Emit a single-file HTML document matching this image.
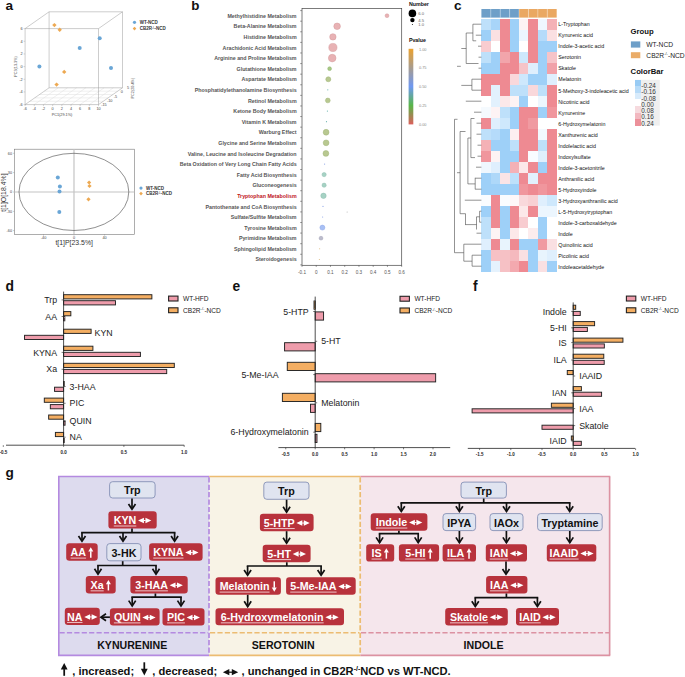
<!DOCTYPE html>
<html><head><meta charset="utf-8"><title>Figure</title>
<style>
html,body{margin:0;padding:0;background:#fff;}
svg{display:block;}
text{font-family:"Liberation Sans",sans-serif;}
</style></head>
<body>
<svg width="685" height="677" viewBox="0 0 685 677">
<rect x="0" y="0" width="685" height="677" fill="#fff"/>
<text x="5.40" y="10.30" font-size="13.6" font-weight="bold" fill="#111">a</text>
<text x="191.20" y="9.70" font-size="13.4" font-weight="bold" fill="#111">b</text>
<text x="454.00" y="10.40" font-size="13.6" font-weight="bold" fill="#111">c</text>
<text x="5.50" y="290.90" font-size="13.9" font-weight="bold" fill="#111">d</text>
<text x="232.60" y="291.10" font-size="13.8" font-weight="bold" fill="#111">e</text>
<text x="472.90" y="290.90" font-size="13.8" font-weight="bold" fill="#111">f</text>
<text x="5.60" y="477.40" font-size="13.6" font-weight="bold" fill="#111">g</text>
<line x1="34.28" y1="104.60" x2="58.28" y2="87.80" stroke="#dedede" stroke-width="0.5"/>
<line x1="43.45" y1="104.60" x2="67.45" y2="87.80" stroke="#dedede" stroke-width="0.5"/>
<line x1="52.62" y1="104.60" x2="76.62" y2="87.80" stroke="#dedede" stroke-width="0.5"/>
<line x1="61.80" y1="104.60" x2="85.80" y2="87.80" stroke="#dedede" stroke-width="0.5"/>
<line x1="70.97" y1="104.60" x2="94.97" y2="87.80" stroke="#dedede" stroke-width="0.5"/>
<line x1="80.15" y1="104.60" x2="104.15" y2="87.80" stroke="#dedede" stroke-width="0.5"/>
<line x1="89.33" y1="104.60" x2="113.33" y2="87.80" stroke="#dedede" stroke-width="0.5"/>
<line x1="29.90" y1="101.24" x2="103.30" y2="101.24" stroke="#dedede" stroke-width="0.5"/>
<line x1="34.70" y1="97.88" x2="108.10" y2="97.88" stroke="#dedede" stroke-width="0.5"/>
<line x1="39.50" y1="94.52" x2="112.90" y2="94.52" stroke="#dedede" stroke-width="0.5"/>
<line x1="44.30" y1="91.16" x2="117.70" y2="91.16" stroke="#dedede" stroke-width="0.5"/>
<line x1="25.10" y1="28.60" x2="98.50" y2="28.60" stroke="#9a9a9a" stroke-width="0.5"/>
<line x1="25.10" y1="104.60" x2="98.50" y2="104.60" stroke="#9a9a9a" stroke-width="0.5"/>
<line x1="25.10" y1="28.60" x2="25.10" y2="104.60" stroke="#9a9a9a" stroke-width="0.5"/>
<line x1="98.50" y1="28.60" x2="98.50" y2="104.60" stroke="#9a9a9a" stroke-width="0.5"/>
<line x1="49.10" y1="11.80" x2="122.50" y2="11.80" stroke="#9a9a9a" stroke-width="0.5"/>
<line x1="49.10" y1="87.80" x2="122.50" y2="87.80" stroke="#9a9a9a" stroke-width="0.5"/>
<line x1="49.10" y1="11.80" x2="49.10" y2="87.80" stroke="#9a9a9a" stroke-width="0.5"/>
<line x1="122.50" y1="11.80" x2="122.50" y2="87.80" stroke="#9a9a9a" stroke-width="0.5"/>
<line x1="25.10" y1="28.60" x2="49.10" y2="11.80" stroke="#9a9a9a" stroke-width="0.5"/>
<line x1="98.50" y1="28.60" x2="122.50" y2="11.80" stroke="#9a9a9a" stroke-width="0.5"/>
<line x1="25.10" y1="104.60" x2="49.10" y2="87.80" stroke="#9a9a9a" stroke-width="0.5"/>
<line x1="98.50" y1="104.60" x2="122.50" y2="87.80" stroke="#9a9a9a" stroke-width="0.5"/>
<line x1="23.60" y1="28.60" x2="25.10" y2="28.60" stroke="#9a9a9a" stroke-width="0.4"/>
<text x="22.60" y="29.90" font-size="3.8" text-anchor="end" fill="#444">6</text>
<line x1="23.60" y1="41.27" x2="25.10" y2="41.27" stroke="#9a9a9a" stroke-width="0.4"/>
<text x="22.60" y="42.57" font-size="3.8" text-anchor="end" fill="#444">4</text>
<line x1="23.60" y1="53.93" x2="25.10" y2="53.93" stroke="#9a9a9a" stroke-width="0.4"/>
<text x="22.60" y="55.23" font-size="3.8" text-anchor="end" fill="#444">2</text>
<line x1="23.60" y1="66.60" x2="25.10" y2="66.60" stroke="#9a9a9a" stroke-width="0.4"/>
<text x="22.60" y="67.90" font-size="3.8" text-anchor="end" fill="#444">0</text>
<line x1="23.60" y1="79.27" x2="25.10" y2="79.27" stroke="#9a9a9a" stroke-width="0.4"/>
<text x="22.60" y="80.57" font-size="3.8" text-anchor="end" fill="#444">-2</text>
<line x1="23.60" y1="91.93" x2="25.10" y2="91.93" stroke="#9a9a9a" stroke-width="0.4"/>
<text x="22.60" y="93.23" font-size="3.8" text-anchor="end" fill="#444">-4</text>
<line x1="23.60" y1="104.60" x2="25.10" y2="104.60" stroke="#9a9a9a" stroke-width="0.4"/>
<text x="22.60" y="105.90" font-size="3.8" text-anchor="end" fill="#444">-6</text>
<line x1="25.10" y1="104.60" x2="25.10" y2="106.10" stroke="#9a9a9a" stroke-width="0.4"/>
<text x="25.10" y="109.90" font-size="3.8" text-anchor="middle" fill="#444">-6</text>
<line x1="34.28" y1="104.60" x2="34.28" y2="106.10" stroke="#9a9a9a" stroke-width="0.4"/>
<text x="34.28" y="109.90" font-size="3.8" text-anchor="middle" fill="#444">-4</text>
<line x1="43.45" y1="104.60" x2="43.45" y2="106.10" stroke="#9a9a9a" stroke-width="0.4"/>
<text x="43.45" y="109.90" font-size="3.8" text-anchor="middle" fill="#444">-2</text>
<line x1="52.62" y1="104.60" x2="52.62" y2="106.10" stroke="#9a9a9a" stroke-width="0.4"/>
<text x="52.62" y="109.90" font-size="3.8" text-anchor="middle" fill="#444">0</text>
<line x1="61.80" y1="104.60" x2="61.80" y2="106.10" stroke="#9a9a9a" stroke-width="0.4"/>
<text x="61.80" y="109.90" font-size="3.8" text-anchor="middle" fill="#444">2</text>
<line x1="70.97" y1="104.60" x2="70.97" y2="106.10" stroke="#9a9a9a" stroke-width="0.4"/>
<text x="70.97" y="109.90" font-size="3.8" text-anchor="middle" fill="#444">4</text>
<line x1="80.15" y1="104.60" x2="80.15" y2="106.10" stroke="#9a9a9a" stroke-width="0.4"/>
<text x="80.15" y="109.90" font-size="3.8" text-anchor="middle" fill="#444">6</text>
<line x1="89.33" y1="104.60" x2="89.33" y2="106.10" stroke="#9a9a9a" stroke-width="0.4"/>
<text x="89.33" y="109.90" font-size="3.8" text-anchor="middle" fill="#444">8</text>
<line x1="98.50" y1="104.60" x2="98.50" y2="106.10" stroke="#9a9a9a" stroke-width="0.4"/>
<text x="98.50" y="109.90" font-size="3.8" text-anchor="middle" fill="#444">10</text>
<text x="103.90" y="105.90" font-size="3.8" text-anchor="middle" fill="#444">-15</text>
<text x="109.70" y="101.50" font-size="3.8" text-anchor="middle" fill="#444">-10</text>
<text x="115.50" y="97.50" font-size="3.8" text-anchor="middle" fill="#444">-5</text>
<text x="121.80" y="93.10" font-size="3.8" text-anchor="middle" fill="#444">0</text>
<text x="128.00" y="88.70" font-size="3.8" text-anchor="middle" fill="#444">5</text>
<text x="62.00" y="115.50" font-size="3.8" text-anchor="middle" fill="#444">PC1(29.1%)</text>
<text transform="translate(17.0,66.5) rotate(-90)" font-size="3.8" text-anchor="middle" fill="#444">PC3(13.3%)</text>
<text transform="translate(134.0,88.1) rotate(-90)" font-size="3.8" text-anchor="middle" fill="#444">PC2(20.4%)</text>
<circle cx="39.40" cy="66.40" r="2.00" fill="#6aa6d6"/>
<circle cx="79.70" cy="48.00" r="2.00" fill="#6aa6d6"/>
<circle cx="99.70" cy="38.20" r="2.00" fill="#6aa6d6"/>
<circle cx="111.00" cy="68.00" r="2.00" fill="#6aa6d6"/>
<path d="M54.40 22.90L56.60 25.10L54.40 27.30L52.20 25.10Z" fill="#eda952"/>
<path d="M59.70 27.60L61.90 29.80L59.70 32.00L57.50 29.80Z" fill="#eda952"/>
<path d="M64.20 69.70L66.40 71.90L64.20 74.10L62.00 71.90Z" fill="#eda952"/>
<path d="M56.60 82.40L58.80 84.60L56.60 86.80L54.40 84.60Z" fill="#eda952"/>
<circle cx="134.50" cy="22.30" r="1.60" fill="#6aa6d6"/>
<path d="M134.50 26.80L136.30 28.60L134.50 30.40L132.70 28.60Z" fill="#eda952"/>
<text x="139.80" y="23.90" font-size="4.5" font-weight="bold" fill="#333">WT-NCD</text>
<text x="139.80" y="30.20" font-size="4.5" font-weight="bold" fill="#333">CB2R<tspan font-size="2.6" dy="-1.4">-/-</tspan><tspan dy="1.4">-NCD</tspan></text>
<rect x="14.30" y="149.20" width="120.00" height="85.20" fill="none" stroke="#777" stroke-width="0.6"/>
<line x1="74.00" y1="149.20" x2="74.00" y2="234.40" stroke="#c4c4c4" stroke-width="1.2"/>
<line x1="14.30" y1="192.00" x2="134.30" y2="192.00" stroke="#c4c4c4" stroke-width="1.2"/>
<ellipse cx="73.9" cy="191.9" rx="54.9" ry="38.6" fill="none" stroke="#444" stroke-width="0.6"/>
<line x1="13.10" y1="153.30" x2="14.30" y2="153.30" stroke="#777" stroke-width="0.4"/>
<text x="12.10" y="154.60" font-size="3.8" text-anchor="end" fill="#444">60</text>
<line x1="13.10" y1="172.60" x2="14.30" y2="172.60" stroke="#777" stroke-width="0.4"/>
<text x="12.10" y="173.90" font-size="3.8" text-anchor="end" fill="#444">30</text>
<line x1="13.10" y1="192.00" x2="14.30" y2="192.00" stroke="#777" stroke-width="0.4"/>
<text x="12.10" y="193.30" font-size="3.8" text-anchor="end" fill="#444">0</text>
<line x1="13.10" y1="211.40" x2="14.30" y2="211.40" stroke="#777" stroke-width="0.4"/>
<text x="12.10" y="212.70" font-size="3.8" text-anchor="end" fill="#444">-30</text>
<line x1="13.10" y1="230.60" x2="14.30" y2="230.60" stroke="#777" stroke-width="0.4"/>
<text x="12.10" y="231.90" font-size="3.8" text-anchor="end" fill="#444">-60</text>
<line x1="43.50" y1="234.40" x2="43.50" y2="235.60" stroke="#777" stroke-width="0.4"/>
<text x="43.50" y="239.20" font-size="3.8" text-anchor="middle" fill="#444">-40</text>
<line x1="74.00" y1="234.40" x2="74.00" y2="235.60" stroke="#777" stroke-width="0.4"/>
<text x="74.00" y="239.20" font-size="3.8" text-anchor="middle" fill="#444">0</text>
<line x1="104.60" y1="234.40" x2="104.60" y2="235.60" stroke="#777" stroke-width="0.4"/>
<text x="104.60" y="239.20" font-size="3.8" text-anchor="middle" fill="#444">40</text>
<text x="74.20" y="244.70" font-size="6.9" text-anchor="middle" fill="#333">t[1]P[23.5%]</text>
<text transform="translate(6.4,192.6) rotate(-90)" font-size="6.9" text-anchor="middle" fill="#333">t[1]O[18.4%]</text>
<circle cx="57.80" cy="177.40" r="2.00" fill="#6aa6d6"/>
<circle cx="59.90" cy="186.60" r="2.00" fill="#6aa6d6"/>
<circle cx="59.50" cy="191.50" r="2.00" fill="#6aa6d6"/>
<circle cx="59.30" cy="212.10" r="2.00" fill="#6aa6d6"/>
<path d="M89.10 180.40L91.20 182.50L89.10 184.60L87.00 182.50Z" fill="#eda952"/>
<path d="M89.50 183.90L91.60 186.00L89.50 188.10L87.40 186.00Z" fill="#eda952"/>
<path d="M88.50 197.20L90.60 199.30L88.50 201.40L86.40 199.30Z" fill="#eda952"/>
<circle cx="141.00" cy="188.10" r="1.60" fill="#6aa6d6"/>
<path d="M141.00 191.80L142.80 193.60L141.00 195.40L139.20 193.60Z" fill="#eda952"/>
<text x="146.00" y="189.60" font-size="4.5" font-weight="bold" fill="#333">WT-NCD</text>
<text x="146.00" y="195.10" font-size="4.5" font-weight="bold" fill="#333">CB2R<tspan font-size="2.6" dy="-1.4">-/-</tspan><tspan dy="1.4">-NCD</tspan></text>
<rect x="302.00" y="8.40" width="99.70" height="256.90" fill="none" stroke="#444" stroke-width="0.7"/>
<text x="296.60" y="17.80" font-size="5.3" font-weight="bold" text-anchor="end" fill="#555">Methylhistidine Metabolism</text>
<text x="296.60" y="28.39" font-size="5.3" font-weight="bold" text-anchor="end" fill="#555">Beta-Alanine Metabolism</text>
<text x="296.60" y="38.99" font-size="5.3" font-weight="bold" text-anchor="end" fill="#555">Histidine Metabolism</text>
<text x="296.60" y="49.59" font-size="5.3" font-weight="bold" text-anchor="end" fill="#555">Arachidonic Acid Metabolism</text>
<text x="296.60" y="60.18" font-size="5.3" font-weight="bold" text-anchor="end" fill="#555">Arginine and Proline Metabolism</text>
<text x="296.60" y="70.78" font-size="5.3" font-weight="bold" text-anchor="end" fill="#555">Glutathione Metabolism</text>
<text x="296.60" y="81.37" font-size="5.3" font-weight="bold" text-anchor="end" fill="#555">Aspartate Metabolism</text>
<text x="296.60" y="91.97" font-size="5.3" font-weight="bold" text-anchor="end" fill="#555">Phosphatidylethanolamine Biosynthesis</text>
<text x="296.60" y="102.56" font-size="5.3" font-weight="bold" text-anchor="end" fill="#555">Retinol Metabolism</text>
<text x="296.60" y="113.16" font-size="5.3" font-weight="bold" text-anchor="end" fill="#555">Ketone Body Metabolism</text>
<text x="296.60" y="123.75" font-size="5.3" font-weight="bold" text-anchor="end" fill="#555">Vitamin K Metabolism</text>
<text x="296.60" y="134.34" font-size="5.3" font-weight="bold" text-anchor="end" fill="#555">Warburg Effect</text>
<text x="296.60" y="144.94" font-size="5.3" font-weight="bold" text-anchor="end" fill="#555">Glycine and Serine Metabolism</text>
<text x="296.60" y="155.54" font-size="5.3" font-weight="bold" text-anchor="end" fill="#555">Valine, Leucine and Isoleucine Degradation</text>
<text x="296.60" y="166.13" font-size="5.3" font-weight="bold" text-anchor="end" fill="#555">Beta Oxidation of Very Long Chain Fatty Acids</text>
<text x="296.60" y="176.73" font-size="5.3" font-weight="bold" text-anchor="end" fill="#555">Fatty Acid Biosynthesis</text>
<text x="296.60" y="187.32" font-size="5.3" font-weight="bold" text-anchor="end" fill="#555">Gluconeogenesis</text>
<text x="296.60" y="197.92" font-size="5.3" font-weight="bold" text-anchor="end" fill="#c0141c">Tryptophan Metabolism</text>
<text x="296.60" y="208.51" font-size="5.3" font-weight="bold" text-anchor="end" fill="#555">Pantothenate and CoA Biosynthesis</text>
<text x="296.60" y="219.11" font-size="5.3" font-weight="bold" text-anchor="end" fill="#555">Sulfate/Sulfite Metabolism</text>
<text x="296.60" y="229.70" font-size="5.3" font-weight="bold" text-anchor="end" fill="#555">Tyrosine Metabolism</text>
<text x="296.60" y="240.30" font-size="5.3" font-weight="bold" text-anchor="end" fill="#555">Pyrimidine Metabolism</text>
<text x="296.60" y="250.89" font-size="5.3" font-weight="bold" text-anchor="end" fill="#555">Sphingolipid Metabolism</text>
<text x="296.60" y="261.48" font-size="5.3" font-weight="bold" text-anchor="end" fill="#555">Steroidogenesis</text>
<line x1="300.20" y1="10.60" x2="302.00" y2="10.60" stroke="#555" stroke-width="0.6"/>
<line x1="300.20" y1="21.20" x2="302.00" y2="21.20" stroke="#555" stroke-width="0.6"/>
<line x1="300.20" y1="31.79" x2="302.00" y2="31.79" stroke="#555" stroke-width="0.6"/>
<line x1="300.20" y1="42.39" x2="302.00" y2="42.39" stroke="#555" stroke-width="0.6"/>
<line x1="300.20" y1="52.98" x2="302.00" y2="52.98" stroke="#555" stroke-width="0.6"/>
<line x1="300.20" y1="63.58" x2="302.00" y2="63.58" stroke="#555" stroke-width="0.6"/>
<line x1="300.20" y1="74.17" x2="302.00" y2="74.17" stroke="#555" stroke-width="0.6"/>
<line x1="300.20" y1="84.77" x2="302.00" y2="84.77" stroke="#555" stroke-width="0.6"/>
<line x1="300.20" y1="95.36" x2="302.00" y2="95.36" stroke="#555" stroke-width="0.6"/>
<line x1="300.20" y1="105.96" x2="302.00" y2="105.96" stroke="#555" stroke-width="0.6"/>
<line x1="300.20" y1="116.55" x2="302.00" y2="116.55" stroke="#555" stroke-width="0.6"/>
<line x1="300.20" y1="127.15" x2="302.00" y2="127.15" stroke="#555" stroke-width="0.6"/>
<line x1="300.20" y1="137.74" x2="302.00" y2="137.74" stroke="#555" stroke-width="0.6"/>
<line x1="300.20" y1="148.34" x2="302.00" y2="148.34" stroke="#555" stroke-width="0.6"/>
<line x1="300.20" y1="158.93" x2="302.00" y2="158.93" stroke="#555" stroke-width="0.6"/>
<line x1="300.20" y1="169.53" x2="302.00" y2="169.53" stroke="#555" stroke-width="0.6"/>
<line x1="300.20" y1="180.12" x2="302.00" y2="180.12" stroke="#555" stroke-width="0.6"/>
<line x1="300.20" y1="190.72" x2="302.00" y2="190.72" stroke="#555" stroke-width="0.6"/>
<line x1="300.20" y1="201.31" x2="302.00" y2="201.31" stroke="#555" stroke-width="0.6"/>
<line x1="300.20" y1="211.91" x2="302.00" y2="211.91" stroke="#555" stroke-width="0.6"/>
<line x1="300.20" y1="222.50" x2="302.00" y2="222.50" stroke="#555" stroke-width="0.6"/>
<line x1="300.20" y1="233.09" x2="302.00" y2="233.09" stroke="#555" stroke-width="0.6"/>
<line x1="300.20" y1="243.69" x2="302.00" y2="243.69" stroke="#555" stroke-width="0.6"/>
<line x1="300.20" y1="254.28" x2="302.00" y2="254.28" stroke="#555" stroke-width="0.6"/>
<line x1="300.20" y1="264.88" x2="302.00" y2="264.88" stroke="#555" stroke-width="0.6"/>
<line x1="302.00" y1="265.30" x2="302.00" y2="266.80" stroke="#444" stroke-width="0.6"/>
<text x="302.00" y="273.60" font-size="4.6" text-anchor="middle" fill="#555">-0.1</text>
<line x1="316.24" y1="265.30" x2="316.24" y2="266.80" stroke="#444" stroke-width="0.6"/>
<text x="316.24" y="273.60" font-size="4.6" text-anchor="middle" fill="#555">0</text>
<line x1="330.48" y1="265.30" x2="330.48" y2="266.80" stroke="#444" stroke-width="0.6"/>
<text x="330.48" y="273.60" font-size="4.6" text-anchor="middle" fill="#555">0.1</text>
<line x1="344.72" y1="265.30" x2="344.72" y2="266.80" stroke="#444" stroke-width="0.6"/>
<text x="344.72" y="273.60" font-size="4.6" text-anchor="middle" fill="#555">0.2</text>
<line x1="358.96" y1="265.30" x2="358.96" y2="266.80" stroke="#444" stroke-width="0.6"/>
<text x="358.96" y="273.60" font-size="4.6" text-anchor="middle" fill="#555">0.3</text>
<line x1="373.20" y1="265.30" x2="373.20" y2="266.80" stroke="#444" stroke-width="0.6"/>
<text x="373.20" y="273.60" font-size="4.6" text-anchor="middle" fill="#555">0.4</text>
<line x1="387.44" y1="265.30" x2="387.44" y2="266.80" stroke="#444" stroke-width="0.6"/>
<text x="387.44" y="273.60" font-size="4.6" text-anchor="middle" fill="#555">0.5</text>
<line x1="401.68" y1="265.30" x2="401.68" y2="266.80" stroke="#444" stroke-width="0.6"/>
<text x="401.68" y="273.60" font-size="4.6" text-anchor="middle" fill="#555">0.6</text>
<circle cx="387.00" cy="15.70" r="1.90" fill="#e8b2b4" stroke="#d49a9c" stroke-width="0.5"/>
<circle cx="337.10" cy="26.30" r="3.30" fill="#e8b2b4" stroke="#d49a9c" stroke-width="0.5"/>
<circle cx="332.90" cy="36.89" r="3.20" fill="#e8b2b4" stroke="#d49a9c" stroke-width="0.5"/>
<circle cx="332.90" cy="47.48" r="4.10" fill="#e8b2b4" stroke="#d49a9c" stroke-width="0.5"/>
<circle cx="332.20" cy="58.08" r="3.80" fill="#e8b2b4" stroke="#d49a9c" stroke-width="0.5"/>
<circle cx="329.60" cy="68.67" r="1.90" fill="#a8c886" stroke="#8fb46c" stroke-width="0.5"/>
<circle cx="328.30" cy="79.27" r="2.50" fill="#b8c890" stroke="#a0b478" stroke-width="0.5"/>
<circle cx="327.80" cy="89.87" r="0.60" fill="#6cb4b0"/>
<circle cx="327.80" cy="100.46" r="2.40" fill="#b8c890" stroke="#a0b478" stroke-width="0.5"/>
<circle cx="327.40" cy="111.06" r="0.60" fill="#6cb4b0"/>
<circle cx="326.50" cy="121.65" r="0.60" fill="#6cb4b0"/>
<circle cx="326.10" cy="132.25" r="2.90" fill="#b8c890" stroke="#a0b478" stroke-width="0.5"/>
<circle cx="326.10" cy="142.84" r="2.90" fill="#b8c890" stroke="#a0b478" stroke-width="0.5"/>
<circle cx="325.90" cy="153.44" r="2.90" fill="#b8c890" stroke="#a0b478" stroke-width="0.5"/>
<circle cx="324.60" cy="164.03" r="0.60" fill="#90a8e8"/>
<circle cx="324.10" cy="174.62" r="2.10" fill="#a6d2c4" stroke="#8cbcae" stroke-width="0.5"/>
<circle cx="324.10" cy="185.22" r="2.10" fill="#a6d2c4" stroke="#8cbcae" stroke-width="0.5"/>
<circle cx="323.50" cy="195.81" r="2.70" fill="#a6d2c4" stroke="#8cbcae" stroke-width="0.5"/>
<circle cx="323.00" cy="206.41" r="0.60" fill="#90a8e8"/>
<circle cx="322.60" cy="217.00" r="0.60" fill="#90a8e8"/>
<circle cx="322.40" cy="227.60" r="2.50" fill="#a8c0f4" stroke="#90a8e8" stroke-width="0.5"/>
<circle cx="321.00" cy="238.19" r="1.90" fill="#bcbccc" stroke="#a4a4b8" stroke-width="0.5"/>
<circle cx="319.70" cy="248.79" r="0.50" fill="#d8b070"/>
<circle cx="319.30" cy="259.38" r="0.50" fill="#d8b070"/>
<circle cx="347.10" cy="211.90" r="0.50" fill="#aaa"/>
<text x="408.90" y="5.80" font-size="5.3" font-weight="bold" fill="#111">Number</text>
<circle cx="412.40" cy="13.40" r="3.80" fill="#000"/>
<circle cx="412.40" cy="20.10" r="2.20" fill="#000"/>
<circle cx="412.40" cy="24.50" r="0.50" fill="#000"/>
<text x="418.20" y="15.00" font-size="4.2" fill="#666">6.0</text>
<text x="418.20" y="21.80" font-size="4.2" fill="#666">4.5</text>
<text x="418.20" y="26.20" font-size="4.2" fill="#666">1.0</text>
<text x="408.90" y="42.00" font-size="5.3" font-weight="bold" fill="#111">Pvalue</text>
<defs><linearGradient id="pv" x1="0" y1="0" x2="0" y2="1"><stop offset="0" stop-color="#eba12d"/><stop offset="0.25" stop-color="#a89c8e"/><stop offset="0.5" stop-color="#6f98f2"/><stop offset="0.75" stop-color="#58b648"/><stop offset="1" stop-color="#dc5f5c"/></linearGradient></defs>
<rect x="408.60" y="48.80" width="4.70" height="75.60" fill="url(#pv)"/>
<text x="418.90" y="50.70" font-size="3.9" fill="#888">1.00</text>
<text x="418.90" y="69.45" font-size="3.9" fill="#888">0.75</text>
<text x="418.90" y="88.20" font-size="3.9" fill="#888">0.50</text>
<text x="418.90" y="106.95" font-size="3.9" fill="#888">0.25</text>
<text x="418.90" y="125.70" font-size="3.9" fill="#888">0.00</text>
<rect x="481.40" y="9.00" width="9.41" height="8.60" fill="#6e9fc8"/>
<rect x="490.81" y="9.00" width="9.41" height="8.60" fill="#6e9fc8"/>
<rect x="500.22" y="9.00" width="9.41" height="8.60" fill="#6e9fc8"/>
<rect x="509.63" y="9.00" width="9.41" height="8.60" fill="#6e9fc8"/>
<rect x="519.04" y="9.00" width="9.41" height="8.60" fill="#eaa862"/>
<rect x="528.45" y="9.00" width="9.41" height="8.60" fill="#eaa862"/>
<rect x="537.86" y="9.00" width="9.41" height="8.60" fill="#eaa862"/>
<rect x="547.27" y="9.00" width="9.41" height="8.60" fill="#eaa862"/>
<line x1="490.81" y1="9.00" x2="490.81" y2="17.60" stroke="#ffffff" stroke-width="0.5" stroke-opacity="0.6"/>
<line x1="500.22" y1="9.00" x2="500.22" y2="17.60" stroke="#ffffff" stroke-width="0.5" stroke-opacity="0.6"/>
<line x1="509.63" y1="9.00" x2="509.63" y2="17.60" stroke="#ffffff" stroke-width="0.5" stroke-opacity="0.6"/>
<line x1="519.04" y1="9.00" x2="519.04" y2="17.60" stroke="#ffffff" stroke-width="0.5" stroke-opacity="0.6"/>
<line x1="528.45" y1="9.00" x2="528.45" y2="17.60" stroke="#ffffff" stroke-width="0.5" stroke-opacity="0.6"/>
<line x1="537.86" y1="9.00" x2="537.86" y2="17.60" stroke="#ffffff" stroke-width="0.5" stroke-opacity="0.6"/>
<line x1="547.27" y1="9.00" x2="547.27" y2="17.60" stroke="#ffffff" stroke-width="0.5" stroke-opacity="0.6"/>
<rect x="481.40" y="18.70" width="9.46" height="11.05" fill="#bee0fa" shape-rendering="crispEdges"/>
<rect x="490.81" y="18.70" width="9.46" height="11.05" fill="#a8d5f9" shape-rendering="crispEdges"/>
<rect x="500.22" y="18.70" width="9.46" height="11.05" fill="#ee8a92" shape-rendering="crispEdges"/>
<rect x="509.63" y="18.70" width="9.46" height="11.05" fill="#9ed0f8" shape-rendering="crispEdges"/>
<rect x="519.04" y="18.70" width="9.46" height="11.05" fill="#fdf3f4" shape-rendering="crispEdges"/>
<rect x="528.45" y="18.70" width="9.46" height="11.05" fill="#ee8a92" shape-rendering="crispEdges"/>
<rect x="537.86" y="18.70" width="9.46" height="11.05" fill="#eff7fe" shape-rendering="crispEdges"/>
<rect x="547.27" y="18.70" width="9.46" height="11.05" fill="#f4b1b6" shape-rendering="crispEdges"/>
<rect x="481.40" y="29.70" width="9.46" height="11.05" fill="#9ed0f8" shape-rendering="crispEdges"/>
<rect x="490.81" y="29.70" width="9.46" height="11.05" fill="#fae0e2" shape-rendering="crispEdges"/>
<rect x="500.22" y="29.70" width="9.46" height="11.05" fill="#ee8a92" shape-rendering="crispEdges"/>
<rect x="509.63" y="29.70" width="9.46" height="11.05" fill="#9ed0f8" shape-rendering="crispEdges"/>
<rect x="519.04" y="29.70" width="9.46" height="11.05" fill="#ecf6fe" shape-rendering="crispEdges"/>
<rect x="528.45" y="29.70" width="9.46" height="11.05" fill="#ee8a92" shape-rendering="crispEdges"/>
<rect x="537.86" y="29.70" width="9.46" height="11.05" fill="#b5dbfa" shape-rendering="crispEdges"/>
<rect x="547.27" y="29.70" width="9.46" height="11.05" fill="#fae0e2" shape-rendering="crispEdges"/>
<rect x="481.40" y="40.70" width="9.46" height="11.05" fill="#f8ccd0" shape-rendering="crispEdges"/>
<rect x="490.81" y="40.70" width="9.46" height="11.05" fill="#ffffff" shape-rendering="crispEdges"/>
<rect x="500.22" y="40.70" width="9.46" height="11.05" fill="#ee8a92" shape-rendering="crispEdges"/>
<rect x="509.63" y="40.70" width="9.46" height="11.05" fill="#9ed0f8" shape-rendering="crispEdges"/>
<rect x="519.04" y="40.70" width="9.46" height="11.05" fill="#ffffff" shape-rendering="crispEdges"/>
<rect x="528.45" y="40.70" width="9.46" height="11.05" fill="#ee8a92" shape-rendering="crispEdges"/>
<rect x="537.86" y="40.70" width="9.46" height="11.05" fill="#9ed0f8" shape-rendering="crispEdges"/>
<rect x="547.27" y="40.70" width="9.46" height="11.05" fill="#9ed0f8" shape-rendering="crispEdges"/>
<rect x="481.40" y="51.70" width="9.46" height="11.05" fill="#bee0fa" shape-rendering="crispEdges"/>
<rect x="490.81" y="51.70" width="9.46" height="11.05" fill="#9ed0f8" shape-rendering="crispEdges"/>
<rect x="500.22" y="51.70" width="9.46" height="11.05" fill="#f2a5ab" shape-rendering="crispEdges"/>
<rect x="509.63" y="51.70" width="9.46" height="11.05" fill="#ee8a92" shape-rendering="crispEdges"/>
<rect x="519.04" y="51.70" width="9.46" height="11.05" fill="#cee8fc" shape-rendering="crispEdges"/>
<rect x="528.45" y="51.70" width="9.46" height="11.05" fill="#ee8a92" shape-rendering="crispEdges"/>
<rect x="537.86" y="51.70" width="9.46" height="11.05" fill="#9ed0f8" shape-rendering="crispEdges"/>
<rect x="547.27" y="51.70" width="9.46" height="11.05" fill="#f6c4c8" shape-rendering="crispEdges"/>
<rect x="481.40" y="62.70" width="9.46" height="11.05" fill="#9ed0f8" shape-rendering="crispEdges"/>
<rect x="490.81" y="62.70" width="9.46" height="11.05" fill="#9ed0f8" shape-rendering="crispEdges"/>
<rect x="500.22" y="62.70" width="9.46" height="11.05" fill="#ee8a92" shape-rendering="crispEdges"/>
<rect x="509.63" y="62.70" width="9.46" height="11.05" fill="#ee8a92" shape-rendering="crispEdges"/>
<rect x="519.04" y="62.70" width="9.46" height="11.05" fill="#f6c4c8" shape-rendering="crispEdges"/>
<rect x="528.45" y="62.70" width="9.46" height="11.05" fill="#dfeffd" shape-rendering="crispEdges"/>
<rect x="537.86" y="62.70" width="9.46" height="11.05" fill="#9ed0f8" shape-rendering="crispEdges"/>
<rect x="547.27" y="62.70" width="9.46" height="11.05" fill="#f1a1a8" shape-rendering="crispEdges"/>
<rect x="481.40" y="73.70" width="9.46" height="11.05" fill="#ee8a92" shape-rendering="crispEdges"/>
<rect x="490.81" y="73.70" width="9.46" height="11.05" fill="#ee8a92" shape-rendering="crispEdges"/>
<rect x="500.22" y="73.70" width="9.46" height="11.05" fill="#ee8a92" shape-rendering="crispEdges"/>
<rect x="509.63" y="73.70" width="9.46" height="11.05" fill="#f9d8db" shape-rendering="crispEdges"/>
<rect x="519.04" y="73.70" width="9.46" height="11.05" fill="#cee8fc" shape-rendering="crispEdges"/>
<rect x="528.45" y="73.70" width="9.46" height="11.05" fill="#9ed0f8" shape-rendering="crispEdges"/>
<rect x="537.86" y="73.70" width="9.46" height="11.05" fill="#9ed0f8" shape-rendering="crispEdges"/>
<rect x="547.27" y="73.70" width="9.46" height="11.05" fill="#dfeffd" shape-rendering="crispEdges"/>
<rect x="481.40" y="84.70" width="9.46" height="11.05" fill="#ee8a92" shape-rendering="crispEdges"/>
<rect x="490.81" y="84.70" width="9.46" height="11.05" fill="#e2f1fd" shape-rendering="crispEdges"/>
<rect x="500.22" y="84.70" width="9.46" height="11.05" fill="#ee8a92" shape-rendering="crispEdges"/>
<rect x="509.63" y="84.70" width="9.46" height="11.05" fill="#bee0fa" shape-rendering="crispEdges"/>
<rect x="519.04" y="84.70" width="9.46" height="11.05" fill="#bee0fa" shape-rendering="crispEdges"/>
<rect x="528.45" y="84.70" width="9.46" height="11.05" fill="#f9d8db" shape-rendering="crispEdges"/>
<rect x="537.86" y="84.70" width="9.46" height="11.05" fill="#bee0fa" shape-rendering="crispEdges"/>
<rect x="547.27" y="84.70" width="9.46" height="11.05" fill="#ee8a92" shape-rendering="crispEdges"/>
<rect x="481.40" y="95.70" width="9.46" height="11.05" fill="#ffffff" shape-rendering="crispEdges"/>
<rect x="490.81" y="95.70" width="9.46" height="11.05" fill="#e2f1fd" shape-rendering="crispEdges"/>
<rect x="500.22" y="95.70" width="9.46" height="11.05" fill="#fce8e9" shape-rendering="crispEdges"/>
<rect x="509.63" y="95.70" width="9.46" height="11.05" fill="#fdf3f4" shape-rendering="crispEdges"/>
<rect x="519.04" y="95.70" width="9.46" height="11.05" fill="#9ed0f8" shape-rendering="crispEdges"/>
<rect x="528.45" y="95.70" width="9.46" height="11.05" fill="#ffffff" shape-rendering="crispEdges"/>
<rect x="537.86" y="95.70" width="9.46" height="11.05" fill="#ecf6fe" shape-rendering="crispEdges"/>
<rect x="547.27" y="95.70" width="9.46" height="11.05" fill="#ee8a92" shape-rendering="crispEdges"/>
<rect x="481.40" y="106.70" width="9.46" height="11.05" fill="#f5fafe" shape-rendering="crispEdges"/>
<rect x="490.81" y="106.70" width="9.46" height="11.05" fill="#fdf3f4" shape-rendering="crispEdges"/>
<rect x="500.22" y="106.70" width="9.46" height="11.05" fill="#bee0fa" shape-rendering="crispEdges"/>
<rect x="509.63" y="106.70" width="9.46" height="11.05" fill="#9ed0f8" shape-rendering="crispEdges"/>
<rect x="519.04" y="106.70" width="9.46" height="11.05" fill="#ee8a92" shape-rendering="crispEdges"/>
<rect x="528.45" y="106.70" width="9.46" height="11.05" fill="#ee8a92" shape-rendering="crispEdges"/>
<rect x="537.86" y="106.70" width="9.46" height="11.05" fill="#9ed0f8" shape-rendering="crispEdges"/>
<rect x="547.27" y="106.70" width="9.46" height="11.05" fill="#f0969d" shape-rendering="crispEdges"/>
<rect x="481.40" y="117.70" width="9.46" height="11.05" fill="#ee8a92" shape-rendering="crispEdges"/>
<rect x="490.81" y="117.70" width="9.46" height="11.05" fill="#dfeffd" shape-rendering="crispEdges"/>
<rect x="500.22" y="117.70" width="9.46" height="11.05" fill="#cee8fc" shape-rendering="crispEdges"/>
<rect x="509.63" y="117.70" width="9.46" height="11.05" fill="#9ed0f8" shape-rendering="crispEdges"/>
<rect x="519.04" y="117.70" width="9.46" height="11.05" fill="#ee8a92" shape-rendering="crispEdges"/>
<rect x="528.45" y="117.70" width="9.46" height="11.05" fill="#f09aa1" shape-rendering="crispEdges"/>
<rect x="537.86" y="117.70" width="9.46" height="11.05" fill="#ffffff" shape-rendering="crispEdges"/>
<rect x="547.27" y="117.70" width="9.46" height="11.05" fill="#ffffff" shape-rendering="crispEdges"/>
<rect x="481.40" y="128.70" width="9.46" height="11.05" fill="#bee0fa" shape-rendering="crispEdges"/>
<rect x="490.81" y="128.70" width="9.46" height="11.05" fill="#b5dbfa" shape-rendering="crispEdges"/>
<rect x="500.22" y="128.70" width="9.46" height="11.05" fill="#9ed0f8" shape-rendering="crispEdges"/>
<rect x="509.63" y="128.70" width="9.46" height="11.05" fill="#fdeff0" shape-rendering="crispEdges"/>
<rect x="519.04" y="128.70" width="9.46" height="11.05" fill="#ee8a92" shape-rendering="crispEdges"/>
<rect x="528.45" y="128.70" width="9.46" height="11.05" fill="#ee8a92" shape-rendering="crispEdges"/>
<rect x="537.86" y="128.70" width="9.46" height="11.05" fill="#f2f9fe" shape-rendering="crispEdges"/>
<rect x="547.27" y="128.70" width="9.46" height="11.05" fill="#ee8a92" shape-rendering="crispEdges"/>
<rect x="481.40" y="139.70" width="9.46" height="11.05" fill="#f4b1b6" shape-rendering="crispEdges"/>
<rect x="490.81" y="139.70" width="9.46" height="11.05" fill="#9ed0f8" shape-rendering="crispEdges"/>
<rect x="500.22" y="139.70" width="9.46" height="11.05" fill="#9ed0f8" shape-rendering="crispEdges"/>
<rect x="509.63" y="139.70" width="9.46" height="11.05" fill="#bee0fa" shape-rendering="crispEdges"/>
<rect x="519.04" y="139.70" width="9.46" height="11.05" fill="#ee8a92" shape-rendering="crispEdges"/>
<rect x="528.45" y="139.70" width="9.46" height="11.05" fill="#ee8a92" shape-rendering="crispEdges"/>
<rect x="537.86" y="139.70" width="9.46" height="11.05" fill="#bee0fa" shape-rendering="crispEdges"/>
<rect x="547.27" y="139.70" width="9.46" height="11.05" fill="#ee8a92" shape-rendering="crispEdges"/>
<rect x="481.40" y="150.70" width="9.46" height="11.05" fill="#f0969d" shape-rendering="crispEdges"/>
<rect x="490.81" y="150.70" width="9.46" height="11.05" fill="#fdf3f4" shape-rendering="crispEdges"/>
<rect x="500.22" y="150.70" width="9.46" height="11.05" fill="#9ed0f8" shape-rendering="crispEdges"/>
<rect x="509.63" y="150.70" width="9.46" height="11.05" fill="#9ed0f8" shape-rendering="crispEdges"/>
<rect x="519.04" y="150.70" width="9.46" height="11.05" fill="#ee8a92" shape-rendering="crispEdges"/>
<rect x="528.45" y="150.70" width="9.46" height="11.05" fill="#f9fcff" shape-rendering="crispEdges"/>
<rect x="537.86" y="150.70" width="9.46" height="11.05" fill="#dfeffd" shape-rendering="crispEdges"/>
<rect x="547.27" y="150.70" width="9.46" height="11.05" fill="#ee8a92" shape-rendering="crispEdges"/>
<rect x="481.40" y="161.70" width="9.46" height="11.05" fill="#eff7fe" shape-rendering="crispEdges"/>
<rect x="490.81" y="161.70" width="9.46" height="11.05" fill="#dfeffd" shape-rendering="crispEdges"/>
<rect x="500.22" y="161.70" width="9.46" height="11.05" fill="#9ed0f8" shape-rendering="crispEdges"/>
<rect x="509.63" y="161.70" width="9.46" height="11.05" fill="#f4b1b6" shape-rendering="crispEdges"/>
<rect x="519.04" y="161.70" width="9.46" height="11.05" fill="#fce8e9" shape-rendering="crispEdges"/>
<rect x="528.45" y="161.70" width="9.46" height="11.05" fill="#ee8a92" shape-rendering="crispEdges"/>
<rect x="537.86" y="161.70" width="9.46" height="11.05" fill="#9ed0f8" shape-rendering="crispEdges"/>
<rect x="547.27" y="161.70" width="9.46" height="11.05" fill="#ee8a92" shape-rendering="crispEdges"/>
<rect x="481.40" y="172.70" width="9.46" height="11.05" fill="#9ed0f8" shape-rendering="crispEdges"/>
<rect x="490.81" y="172.70" width="9.46" height="11.05" fill="#aed8f9" shape-rendering="crispEdges"/>
<rect x="500.22" y="172.70" width="9.46" height="11.05" fill="#fbe4e6" shape-rendering="crispEdges"/>
<rect x="509.63" y="172.70" width="9.46" height="11.05" fill="#bee0fa" shape-rendering="crispEdges"/>
<rect x="519.04" y="172.70" width="9.46" height="11.05" fill="#ee8a92" shape-rendering="crispEdges"/>
<rect x="528.45" y="172.70" width="9.46" height="11.05" fill="#e2f1fd" shape-rendering="crispEdges"/>
<rect x="537.86" y="172.70" width="9.46" height="11.05" fill="#ee8a92" shape-rendering="crispEdges"/>
<rect x="547.27" y="172.70" width="9.46" height="11.05" fill="#ee8a92" shape-rendering="crispEdges"/>
<rect x="481.40" y="183.70" width="9.46" height="11.05" fill="#9ed0f8" shape-rendering="crispEdges"/>
<rect x="490.81" y="183.70" width="9.46" height="11.05" fill="#9ed0f8" shape-rendering="crispEdges"/>
<rect x="500.22" y="183.70" width="9.46" height="11.05" fill="#9ed0f8" shape-rendering="crispEdges"/>
<rect x="509.63" y="183.70" width="9.46" height="11.05" fill="#9ed0f8" shape-rendering="crispEdges"/>
<rect x="519.04" y="183.70" width="9.46" height="11.05" fill="#f0969d" shape-rendering="crispEdges"/>
<rect x="528.45" y="183.70" width="9.46" height="11.05" fill="#ee8a92" shape-rendering="crispEdges"/>
<rect x="537.86" y="183.70" width="9.46" height="11.05" fill="#f0969d" shape-rendering="crispEdges"/>
<rect x="547.27" y="183.70" width="9.46" height="11.05" fill="#ee8a92" shape-rendering="crispEdges"/>
<rect x="481.40" y="194.70" width="9.46" height="11.05" fill="#f9fcff" shape-rendering="crispEdges"/>
<rect x="490.81" y="194.70" width="9.46" height="11.05" fill="#ee8a92" shape-rendering="crispEdges"/>
<rect x="500.22" y="194.70" width="9.46" height="11.05" fill="#f9fcff" shape-rendering="crispEdges"/>
<rect x="509.63" y="194.70" width="9.46" height="11.05" fill="#fef7f8" shape-rendering="crispEdges"/>
<rect x="519.04" y="194.70" width="9.46" height="11.05" fill="#f9d8db" shape-rendering="crispEdges"/>
<rect x="528.45" y="194.70" width="9.46" height="11.05" fill="#f8d0d3" shape-rendering="crispEdges"/>
<rect x="537.86" y="194.70" width="9.46" height="11.05" fill="#dfeffd" shape-rendering="crispEdges"/>
<rect x="547.27" y="194.70" width="9.46" height="11.05" fill="#cee8fc" shape-rendering="crispEdges"/>
<rect x="481.40" y="205.70" width="9.46" height="11.05" fill="#9ed0f8" shape-rendering="crispEdges"/>
<rect x="490.81" y="205.70" width="9.46" height="11.05" fill="#ee8a92" shape-rendering="crispEdges"/>
<rect x="500.22" y="205.70" width="9.46" height="11.05" fill="#9ed0f8" shape-rendering="crispEdges"/>
<rect x="509.63" y="205.70" width="9.46" height="11.05" fill="#ee8a92" shape-rendering="crispEdges"/>
<rect x="519.04" y="205.70" width="9.46" height="11.05" fill="#fce8e9" shape-rendering="crispEdges"/>
<rect x="528.45" y="205.70" width="9.46" height="11.05" fill="#ee8a92" shape-rendering="crispEdges"/>
<rect x="537.86" y="205.70" width="9.46" height="11.05" fill="#ecf6fe" shape-rendering="crispEdges"/>
<rect x="547.27" y="205.70" width="9.46" height="11.05" fill="#ecf6fe" shape-rendering="crispEdges"/>
<rect x="481.40" y="216.70" width="9.46" height="11.05" fill="#bee0fa" shape-rendering="crispEdges"/>
<rect x="490.81" y="216.70" width="9.46" height="11.05" fill="#ee8a92" shape-rendering="crispEdges"/>
<rect x="500.22" y="216.70" width="9.46" height="11.05" fill="#9ed0f8" shape-rendering="crispEdges"/>
<rect x="509.63" y="216.70" width="9.46" height="11.05" fill="#ee8a92" shape-rendering="crispEdges"/>
<rect x="519.04" y="216.70" width="9.46" height="11.05" fill="#f8ccd0" shape-rendering="crispEdges"/>
<rect x="528.45" y="216.70" width="9.46" height="11.05" fill="#ffffff" shape-rendering="crispEdges"/>
<rect x="537.86" y="216.70" width="9.46" height="11.05" fill="#9ed0f8" shape-rendering="crispEdges"/>
<rect x="547.27" y="216.70" width="9.46" height="11.05" fill="#ffffff" shape-rendering="crispEdges"/>
<rect x="481.40" y="227.70" width="9.46" height="11.05" fill="#bee0fa" shape-rendering="crispEdges"/>
<rect x="490.81" y="227.70" width="9.46" height="11.05" fill="#fdf3f4" shape-rendering="crispEdges"/>
<rect x="500.22" y="227.70" width="9.46" height="11.05" fill="#9ed0f8" shape-rendering="crispEdges"/>
<rect x="509.63" y="227.70" width="9.46" height="11.05" fill="#fce8e9" shape-rendering="crispEdges"/>
<rect x="519.04" y="227.70" width="9.46" height="11.05" fill="#ffffff" shape-rendering="crispEdges"/>
<rect x="528.45" y="227.70" width="9.46" height="11.05" fill="#fceced" shape-rendering="crispEdges"/>
<rect x="537.86" y="227.70" width="9.46" height="11.05" fill="#9ed0f8" shape-rendering="crispEdges"/>
<rect x="547.27" y="227.70" width="9.46" height="11.05" fill="#ffffff" shape-rendering="crispEdges"/>
<rect x="481.40" y="238.70" width="9.46" height="11.05" fill="#dfeffd" shape-rendering="crispEdges"/>
<rect x="490.81" y="238.70" width="9.46" height="11.05" fill="#ee8a92" shape-rendering="crispEdges"/>
<rect x="500.22" y="238.70" width="9.46" height="11.05" fill="#e8f4fd" shape-rendering="crispEdges"/>
<rect x="509.63" y="238.70" width="9.46" height="11.05" fill="#ee8a92" shape-rendering="crispEdges"/>
<rect x="519.04" y="238.70" width="9.46" height="11.05" fill="#9ed0f8" shape-rendering="crispEdges"/>
<rect x="528.45" y="238.70" width="9.46" height="11.05" fill="#9ed0f8" shape-rendering="crispEdges"/>
<rect x="537.86" y="238.70" width="9.46" height="11.05" fill="#f09aa1" shape-rendering="crispEdges"/>
<rect x="547.27" y="238.70" width="9.46" height="11.05" fill="#fae0e2" shape-rendering="crispEdges"/>
<rect x="481.40" y="249.70" width="9.46" height="11.05" fill="#9ed0f8" shape-rendering="crispEdges"/>
<rect x="490.81" y="249.70" width="9.46" height="11.05" fill="#f6c1c5" shape-rendering="crispEdges"/>
<rect x="500.22" y="249.70" width="9.46" height="11.05" fill="#f6c1c5" shape-rendering="crispEdges"/>
<rect x="509.63" y="249.70" width="9.46" height="11.05" fill="#f5b9be" shape-rendering="crispEdges"/>
<rect x="519.04" y="249.70" width="9.46" height="11.05" fill="#fae0e2" shape-rendering="crispEdges"/>
<rect x="528.45" y="249.70" width="9.46" height="11.05" fill="#9ed0f8" shape-rendering="crispEdges"/>
<rect x="537.86" y="249.70" width="9.46" height="11.05" fill="#e8f4fd" shape-rendering="crispEdges"/>
<rect x="547.27" y="249.70" width="9.46" height="11.05" fill="#dfeffd" shape-rendering="crispEdges"/>
<rect x="481.40" y="260.70" width="9.46" height="11.05" fill="#9ed0f8" shape-rendering="crispEdges"/>
<rect x="490.81" y="260.70" width="9.46" height="11.05" fill="#e5f2fd" shape-rendering="crispEdges"/>
<rect x="500.22" y="260.70" width="9.46" height="11.05" fill="#f6c1c5" shape-rendering="crispEdges"/>
<rect x="509.63" y="260.70" width="9.46" height="11.05" fill="#f3a9af" shape-rendering="crispEdges"/>
<rect x="519.04" y="260.70" width="9.46" height="11.05" fill="#ee8a92" shape-rendering="crispEdges"/>
<rect x="528.45" y="260.70" width="9.46" height="11.05" fill="#9ed0f8" shape-rendering="crispEdges"/>
<rect x="537.86" y="260.70" width="9.46" height="11.05" fill="#fae0e2" shape-rendering="crispEdges"/>
<rect x="547.27" y="260.70" width="9.46" height="11.05" fill="#9ed0f8" shape-rendering="crispEdges"/>
<text x="558.30" y="26.20" font-size="5.3" fill="#111">L-Tryptophan</text>
<text x="558.30" y="37.25" font-size="5.3" fill="#111">Kynurenic acid</text>
<text x="558.30" y="48.30" font-size="5.3" fill="#111">Indole-3-acetic acid</text>
<text x="558.30" y="59.35" font-size="5.3" fill="#111">Serotonin</text>
<text x="558.30" y="70.40" font-size="5.3" fill="#111">Skatole</text>
<text x="558.30" y="81.45" font-size="5.3" fill="#111">Melatonin</text>
<text x="558.30" y="92.50" font-size="5.3" fill="#111">5-Methoxy-3-indoleacetic acid</text>
<text x="558.30" y="103.55" font-size="5.3" fill="#111">Nicotinic acid</text>
<text x="558.30" y="114.60" font-size="5.3" fill="#111">Kynurenine</text>
<text x="558.30" y="125.65" font-size="5.3" fill="#111">6-Hydroxymelatonin</text>
<text x="558.30" y="136.70" font-size="5.3" fill="#111">Xanthurenic acid</text>
<text x="558.30" y="147.75" font-size="5.3" fill="#111">Indolelactic acid</text>
<text x="558.30" y="158.80" font-size="5.3" fill="#111">Indoxylsulfate</text>
<text x="558.30" y="169.85" font-size="5.3" fill="#111">Indole-3-acetonitrile</text>
<text x="558.30" y="180.90" font-size="5.3" fill="#111">Anthranilic acid</text>
<text x="558.30" y="191.95" font-size="5.3" fill="#111">5-Hydroxyindole</text>
<text x="558.30" y="203.00" font-size="5.3" fill="#111">3-Hydroxyanthranilic acid</text>
<text x="558.30" y="214.05" font-size="5.3" fill="#111">L-5-Hydroxytryptophan</text>
<text x="558.30" y="225.10" font-size="5.3" fill="#111">Indole-3-carboxaldehyde</text>
<text x="558.30" y="236.15" font-size="5.3" fill="#111">Indole</text>
<text x="558.30" y="247.20" font-size="5.3" fill="#111">Quinolinic acid</text>
<text x="558.30" y="258.25" font-size="5.3" fill="#111">Picolinic acid</text>
<text x="558.30" y="269.30" font-size="5.3" fill="#111">Indoleacetaldehyde</text>
<line x1="472.90" y1="24.20" x2="481.40" y2="24.20" stroke="#4a4a4a" stroke-width="0.6"/>
<line x1="472.90" y1="24.20" x2="472.90" y2="40.80" stroke="#4a4a4a" stroke-width="0.6"/>
<line x1="472.90" y1="40.80" x2="476.20" y2="40.80" stroke="#4a4a4a" stroke-width="0.6"/>
<line x1="475.80" y1="35.20" x2="481.40" y2="35.20" stroke="#4a4a4a" stroke-width="0.6"/>
<line x1="478.00" y1="46.20" x2="481.40" y2="46.20" stroke="#4a4a4a" stroke-width="0.6"/>
<line x1="466.20" y1="33.00" x2="466.20" y2="63.50" stroke="#4a4a4a" stroke-width="0.6"/>
<line x1="466.20" y1="33.00" x2="472.90" y2="33.00" stroke="#4a4a4a" stroke-width="0.6"/>
<line x1="466.20" y1="63.50" x2="478.50" y2="63.50" stroke="#4a4a4a" stroke-width="0.6"/>
<line x1="478.50" y1="57.20" x2="481.40" y2="57.20" stroke="#4a4a4a" stroke-width="0.6"/>
<line x1="478.50" y1="68.20" x2="481.40" y2="68.20" stroke="#4a4a4a" stroke-width="0.6"/>
<line x1="461.30" y1="48.50" x2="466.20" y2="48.50" stroke="#4a4a4a" stroke-width="0.6"/>
<line x1="457.00" y1="66.30" x2="460.80" y2="66.30" stroke="#4a4a4a" stroke-width="0.6"/>
<line x1="471.90" y1="79.20" x2="481.40" y2="79.20" stroke="#4a4a4a" stroke-width="0.6"/>
<line x1="471.90" y1="90.20" x2="481.40" y2="90.20" stroke="#4a4a4a" stroke-width="0.6"/>
<line x1="471.90" y1="79.20" x2="471.90" y2="90.20" stroke="#4a4a4a" stroke-width="0.6"/>
<line x1="461.30" y1="85.40" x2="471.90" y2="85.40" stroke="#4a4a4a" stroke-width="0.6"/>
<line x1="465.80" y1="101.20" x2="481.40" y2="101.20" stroke="#4a4a4a" stroke-width="0.6"/>
<line x1="474.00" y1="112.20" x2="481.40" y2="112.20" stroke="#4a4a4a" stroke-width="0.6"/>
<line x1="476.50" y1="123.20" x2="481.40" y2="123.20" stroke="#4a4a4a" stroke-width="0.6"/>
<line x1="454.50" y1="119.30" x2="454.50" y2="252.70" stroke="#4a4a4a" stroke-width="0.6"/>
<line x1="454.50" y1="119.30" x2="457.50" y2="119.30" stroke="#4a4a4a" stroke-width="0.6"/>
<line x1="454.50" y1="252.70" x2="463.80" y2="252.70" stroke="#4a4a4a" stroke-width="0.6"/>
<line x1="460.10" y1="131.50" x2="460.10" y2="213.70" stroke="#4a4a4a" stroke-width="0.6"/>
<line x1="460.10" y1="131.50" x2="465.50" y2="131.50" stroke="#4a4a4a" stroke-width="0.6"/>
<line x1="460.10" y1="213.70" x2="465.50" y2="213.70" stroke="#4a4a4a" stroke-width="0.6"/>
<line x1="457.00" y1="172.70" x2="460.10" y2="172.70" stroke="#4a4a4a" stroke-width="0.6"/>
<line x1="470.90" y1="118.50" x2="470.90" y2="157.60" stroke="#4a4a4a" stroke-width="0.6"/>
<line x1="470.90" y1="118.50" x2="474.50" y2="118.50" stroke="#4a4a4a" stroke-width="0.6"/>
<line x1="470.90" y1="157.60" x2="475.00" y2="157.60" stroke="#4a4a4a" stroke-width="0.6"/>
<line x1="467.90" y1="138.00" x2="467.90" y2="183.90" stroke="#4a4a4a" stroke-width="0.6"/>
<line x1="467.90" y1="138.00" x2="470.90" y2="138.00" stroke="#4a4a4a" stroke-width="0.6"/>
<line x1="467.90" y1="183.90" x2="475.20" y2="183.90" stroke="#4a4a4a" stroke-width="0.6"/>
<line x1="475.20" y1="177.80" x2="475.20" y2="189.30" stroke="#4a4a4a" stroke-width="0.6"/>
<line x1="475.20" y1="178.20" x2="481.40" y2="178.20" stroke="#4a4a4a" stroke-width="0.6"/>
<line x1="475.20" y1="189.20" x2="481.40" y2="189.20" stroke="#4a4a4a" stroke-width="0.6"/>
<line x1="476.50" y1="134.20" x2="481.40" y2="134.20" stroke="#4a4a4a" stroke-width="0.6"/>
<line x1="477.50" y1="145.20" x2="481.40" y2="145.20" stroke="#4a4a4a" stroke-width="0.6"/>
<line x1="477.50" y1="156.20" x2="481.40" y2="156.20" stroke="#4a4a4a" stroke-width="0.6"/>
<line x1="476.00" y1="167.20" x2="481.40" y2="167.20" stroke="#4a4a4a" stroke-width="0.6"/>
<line x1="464.80" y1="200.20" x2="481.40" y2="200.20" stroke="#4a4a4a" stroke-width="0.6"/>
<line x1="476.50" y1="216.80" x2="476.50" y2="229.50" stroke="#4a4a4a" stroke-width="0.6"/>
<line x1="479.60" y1="211.20" x2="479.60" y2="222.20" stroke="#4a4a4a" stroke-width="0.6"/>
<line x1="479.60" y1="211.20" x2="481.40" y2="211.20" stroke="#4a4a4a" stroke-width="0.6"/>
<line x1="479.60" y1="222.20" x2="481.40" y2="222.20" stroke="#4a4a4a" stroke-width="0.6"/>
<line x1="476.50" y1="216.80" x2="479.60" y2="216.80" stroke="#4a4a4a" stroke-width="0.6"/>
<line x1="476.50" y1="233.20" x2="481.40" y2="233.20" stroke="#4a4a4a" stroke-width="0.6"/>
<line x1="465.00" y1="224.60" x2="476.50" y2="224.60" stroke="#4a4a4a" stroke-width="0.6"/>
<line x1="465.50" y1="213.70" x2="465.50" y2="224.60" stroke="#4a4a4a" stroke-width="0.6"/>
<line x1="463.80" y1="244.20" x2="463.80" y2="261.20" stroke="#4a4a4a" stroke-width="0.6"/>
<line x1="463.80" y1="244.20" x2="481.40" y2="244.20" stroke="#4a4a4a" stroke-width="0.6"/>
<line x1="463.80" y1="261.20" x2="472.10" y2="261.20" stroke="#4a4a4a" stroke-width="0.6"/>
<line x1="472.10" y1="255.20" x2="472.10" y2="266.20" stroke="#4a4a4a" stroke-width="0.6"/>
<line x1="472.10" y1="255.20" x2="481.40" y2="255.20" stroke="#4a4a4a" stroke-width="0.6"/>
<line x1="472.10" y1="266.20" x2="481.40" y2="266.20" stroke="#4a4a4a" stroke-width="0.6"/>
<text x="630.60" y="34.20" font-size="7.7" font-weight="bold" fill="#111">Group</text>
<rect x="630.90" y="41.40" width="9.40" height="6.20" fill="#6e9fc8"/>
<text x="646.30" y="46.80" font-size="6.7" fill="#222">WT-NCD</text>
<rect x="630.90" y="52.20" width="9.40" height="6.00" fill="#eaac68"/>
<text x="646.30" y="57.70" font-size="6.7" fill="#222">CB2R<tspan font-size="4" dy="-2.3">-/-</tspan><tspan dy="2.3">-NCD</tspan></text>
<text x="630.60" y="73.60" font-size="7.7" font-weight="bold" fill="#111">ColorBar</text>
<rect x="635.00" y="79.80" width="24.80" height="45.80" fill="#efefef"/>
<rect x="635.00" y="79.80" width="6.00" height="6.60" fill="#98cbf4" shape-rendering="crispEdges"/>
<rect x="635.00" y="86.34" width="6.00" height="6.60" fill="#b7dbf8" shape-rendering="crispEdges"/>
<rect x="635.00" y="92.88" width="6.00" height="6.60" fill="#d8ebfb" shape-rendering="crispEdges"/>
<rect x="635.00" y="99.42" width="6.00" height="6.60" fill="#ffffff" shape-rendering="crispEdges"/>
<rect x="635.00" y="105.96" width="6.00" height="6.60" fill="#f6dade" shape-rendering="crispEdges"/>
<rect x="635.00" y="112.50" width="6.00" height="6.60" fill="#f2b8c0" shape-rendering="crispEdges"/>
<rect x="635.00" y="119.04" width="6.00" height="6.60" fill="#ec909a" shape-rendering="crispEdges"/>
<text x="641.30" y="88.00" font-size="6.4" fill="#333">-0.24</text>
<text x="641.30" y="94.28" font-size="6.4" fill="#333">-0.16</text>
<text x="641.30" y="100.56" font-size="6.4" fill="#333">-0.08</text>
<text x="641.30" y="106.84" font-size="6.4" fill="#333">0.00</text>
<text x="641.30" y="113.12" font-size="6.4" fill="#333">0.08</text>
<text x="641.30" y="119.40" font-size="6.4" fill="#333">0.16</text>
<text x="641.30" y="125.68" font-size="6.4" fill="#333">0.24</text>
<rect x="63.60" y="294.70" width="88.28" height="4.20" fill="#f4ae62" stroke="#222222" stroke-width="0.95"/>
<rect x="63.60" y="300.70" width="51.86" height="4.20" fill="#ee9cab" stroke="#222222" stroke-width="0.95"/>
<text x="57.10" y="303.00" font-size="8.8" text-anchor="end" fill="#222">Trp</text>
<line x1="61.60" y1="299.90" x2="63.60" y2="299.90" stroke="#222" stroke-width="0.6"/>
<rect x="63.60" y="311.60" width="7.24" height="4.20" fill="#f4ae62" stroke="#222222" stroke-width="0.95"/>
<rect x="63.60" y="316.60" width="1.21" height="4.20" fill="#ee9cab" stroke="#222222" stroke-width="0.95"/>
<text x="57.10" y="319.60" font-size="8.8" text-anchor="end" fill="#222">AA</text>
<line x1="61.60" y1="316.50" x2="63.60" y2="316.50" stroke="#222" stroke-width="0.6"/>
<rect x="63.60" y="329.20" width="27.50" height="4.20" fill="#f4ae62" stroke="#222222" stroke-width="0.95"/>
<rect x="24.53" y="335.30" width="39.07" height="4.20" fill="#ee9cab" stroke="#222222" stroke-width="0.95"/>
<text x="94.60" y="336.40" font-size="8.8" fill="#222">KYN</text>
<line x1="63.60" y1="333.30" x2="65.60" y2="333.30" stroke="#222" stroke-width="0.6"/>
<rect x="63.60" y="346.20" width="29.31" height="4.20" fill="#f4ae62" stroke="#222222" stroke-width="0.95"/>
<rect x="63.60" y="352.30" width="76.82" height="4.20" fill="#ee9cab" stroke="#222222" stroke-width="0.95"/>
<text x="57.10" y="355.50" font-size="8.8" text-anchor="end" fill="#222">KYNA</text>
<line x1="61.60" y1="352.40" x2="63.60" y2="352.40" stroke="#222" stroke-width="0.6"/>
<rect x="63.60" y="363.30" width="110.71" height="4.20" fill="#f4ae62" stroke="#222222" stroke-width="0.95"/>
<rect x="63.60" y="369.40" width="103.11" height="4.20" fill="#ee9cab" stroke="#222222" stroke-width="0.95"/>
<text x="57.10" y="372.40" font-size="8.8" text-anchor="end" fill="#222">Xa</text>
<line x1="61.60" y1="369.30" x2="63.60" y2="369.30" stroke="#222" stroke-width="0.6"/>
<rect x="63.60" y="381.50" width="0.60" height="4.20" fill="#f4ae62" stroke="#222222" stroke-width="0.95"/>
<rect x="54.55" y="387.20" width="9.05" height="4.20" fill="#ee9cab" stroke="#222222" stroke-width="0.95"/>
<text x="69.60" y="389.60" font-size="8.8" fill="#222">3-HAA</text>
<line x1="63.60" y1="386.50" x2="65.60" y2="386.50" stroke="#222" stroke-width="0.6"/>
<rect x="44.30" y="398.10" width="19.30" height="4.20" fill="#f4ae62" stroke="#222222" stroke-width="0.95"/>
<rect x="50.33" y="404.60" width="13.27" height="4.20" fill="#ee9cab" stroke="#222222" stroke-width="0.95"/>
<text x="69.60" y="406.40" font-size="8.8" fill="#222">PIC</text>
<line x1="63.60" y1="403.30" x2="65.60" y2="403.30" stroke="#222" stroke-width="0.6"/>
<rect x="48.65" y="415.00" width="14.95" height="4.20" fill="#f4ae62" stroke="#222222" stroke-width="0.95"/>
<rect x="63.60" y="421.00" width="1.45" height="4.20" fill="#ee9cab" stroke="#222222" stroke-width="0.95"/>
<text x="69.60" y="424.20" font-size="8.8" fill="#222">QUIN</text>
<line x1="63.60" y1="421.10" x2="65.60" y2="421.10" stroke="#222" stroke-width="0.6"/>
<rect x="55.40" y="432.40" width="8.20" height="4.20" fill="#f4ae62" stroke="#222222" stroke-width="0.95"/>
<rect x="63.60" y="438.40" width="0.60" height="4.20" fill="#ee9cab" stroke="#222222" stroke-width="0.95"/>
<text x="69.60" y="440.30" font-size="8.8" fill="#222">NA</text>
<line x1="63.60" y1="437.20" x2="65.60" y2="437.20" stroke="#222" stroke-width="0.6"/>
<line x1="63.60" y1="291.60" x2="63.60" y2="445.20" stroke="#222" stroke-width="0.8"/>
<line x1="6.00" y1="445.20" x2="184.20" y2="445.20" stroke="#222" stroke-width="0.8"/>
<line x1="3.30" y1="445.20" x2="3.30" y2="446.90" stroke="#222" stroke-width="0.6"/>
<text x="3.30" y="453.90" font-size="4.5" font-weight="bold" text-anchor="middle" fill="#222">-0.5</text>
<line x1="63.60" y1="445.20" x2="63.60" y2="446.90" stroke="#222" stroke-width="0.6"/>
<text x="63.60" y="453.90" font-size="4.5" font-weight="bold" text-anchor="middle" fill="#222">0.0</text>
<line x1="123.90" y1="445.20" x2="123.90" y2="446.90" stroke="#222" stroke-width="0.6"/>
<text x="123.90" y="453.90" font-size="4.5" font-weight="bold" text-anchor="middle" fill="#222">0.5</text>
<line x1="184.20" y1="445.20" x2="184.20" y2="446.90" stroke="#222" stroke-width="0.6"/>
<text x="184.20" y="453.90" font-size="4.5" font-weight="bold" text-anchor="middle" fill="#222">1.0</text>
<rect x="168.60" y="296.10" width="9.40" height="4.90" fill="#ee9cab" stroke="#222222" stroke-width="1.1"/>
<rect x="168.60" y="307.80" width="9.40" height="4.90" fill="#f4ae62" stroke="#222222" stroke-width="1.1"/>
<text x="183.00" y="301.00" font-size="6.6" fill="#222">WT-HFD</text>
<text x="183.00" y="312.70" font-size="6.6" fill="#222">CB2R<tspan font-size="4" dy="-2.3">-/-</tspan><tspan dy="2.3">-NCD</tspan></text>
<rect x="314.02" y="301.00" width="1.18" height="8.20" fill="#f4ae62" stroke="#222222" stroke-width="0.95"/>
<rect x="315.20" y="311.90" width="8.36" height="8.20" fill="#ee9cab" stroke="#222222" stroke-width="0.95"/>
<text x="308.70" y="314.60" font-size="8.8" text-anchor="end" fill="#222">5-HTP</text>
<line x1="313.20" y1="311.50" x2="315.20" y2="311.50" stroke="#222" stroke-width="0.6"/>
<rect x="284.57" y="342.70" width="30.63" height="8.20" fill="#ee9cab" stroke="#222222" stroke-width="0.95"/>
<text x="321.20" y="344.40" font-size="8.8" fill="#222">5-HT</text>
<line x1="315.20" y1="341.30" x2="317.20" y2="341.30" stroke="#222" stroke-width="0.6"/>
<rect x="287.28" y="362.30" width="27.92" height="8.20" fill="#f4ae62" stroke="#222222" stroke-width="0.95"/>
<rect x="315.20" y="373.70" width="120.45" height="8.20" fill="#ee9cab" stroke="#222222" stroke-width="0.95"/>
<text x="278.60" y="377.70" font-size="8.8" text-anchor="end" fill="#222">5-Me-IAA</text>
<line x1="313.20" y1="374.60" x2="315.20" y2="374.60" stroke="#222" stroke-width="0.6"/>
<rect x="282.39" y="393.30" width="32.81" height="8.20" fill="#f4ae62" stroke="#222222" stroke-width="0.95"/>
<rect x="310.49" y="404.20" width="4.71" height="8.20" fill="#ee9cab" stroke="#222222" stroke-width="0.95"/>
<text x="321.20" y="405.90" font-size="8.8" fill="#222">Melatonin</text>
<line x1="315.20" y1="402.80" x2="317.20" y2="402.80" stroke="#222" stroke-width="0.6"/>
<rect x="315.20" y="423.40" width="5.60" height="8.20" fill="#f4ae62" stroke="#222222" stroke-width="0.95"/>
<rect x="315.20" y="434.30" width="1.77" height="8.20" fill="#ee9cab" stroke="#222222" stroke-width="0.95"/>
<text x="308.70" y="435.30" font-size="8.8" text-anchor="end" fill="#222">6-Hydroxymelatonin</text>
<line x1="313.20" y1="432.20" x2="315.20" y2="432.20" stroke="#222" stroke-width="0.6"/>
<line x1="315.20" y1="296.60" x2="315.20" y2="447.60" stroke="#222" stroke-width="0.8"/>
<line x1="278.40" y1="447.60" x2="450.20" y2="447.60" stroke="#222" stroke-width="0.8"/>
<line x1="285.75" y1="447.60" x2="285.75" y2="449.30" stroke="#222" stroke-width="0.6"/>
<text x="285.75" y="456.00" font-size="4.5" font-weight="bold" text-anchor="middle" fill="#222">-0.5</text>
<line x1="315.20" y1="447.60" x2="315.20" y2="449.30" stroke="#222" stroke-width="0.6"/>
<text x="315.20" y="456.00" font-size="4.5" font-weight="bold" text-anchor="middle" fill="#222">0.0</text>
<line x1="344.65" y1="447.60" x2="344.65" y2="449.30" stroke="#222" stroke-width="0.6"/>
<text x="344.65" y="456.00" font-size="4.5" font-weight="bold" text-anchor="middle" fill="#222">0.5</text>
<line x1="374.10" y1="447.60" x2="374.10" y2="449.30" stroke="#222" stroke-width="0.6"/>
<text x="374.10" y="456.00" font-size="4.5" font-weight="bold" text-anchor="middle" fill="#222">1.0</text>
<line x1="403.55" y1="447.60" x2="403.55" y2="449.30" stroke="#222" stroke-width="0.6"/>
<text x="403.55" y="456.00" font-size="4.5" font-weight="bold" text-anchor="middle" fill="#222">1.5</text>
<line x1="433.00" y1="447.60" x2="433.00" y2="449.30" stroke="#222" stroke-width="0.6"/>
<text x="433.00" y="456.00" font-size="4.5" font-weight="bold" text-anchor="middle" fill="#222">2.0</text>
<rect x="400.00" y="296.30" width="9.40" height="4.90" fill="#ee9cab" stroke="#222222" stroke-width="1.1"/>
<rect x="400.00" y="308.00" width="9.40" height="4.90" fill="#f4ae62" stroke="#222222" stroke-width="1.1"/>
<text x="414.40" y="301.20" font-size="6.6" fill="#222">WT-HFD</text>
<text x="414.40" y="312.90" font-size="6.6" fill="#222">CB2R<tspan font-size="4" dy="-2.3">-/-</tspan><tspan dy="2.3">-NCD</tspan></text>
<rect x="573.20" y="305.20" width="2.50" height="4.10" fill="#f4ae62" stroke="#222222" stroke-width="0.95"/>
<rect x="573.20" y="311.40" width="7.05" height="4.10" fill="#ee9cab" stroke="#222222" stroke-width="0.95"/>
<text x="566.70" y="314.50" font-size="8.8" text-anchor="end" fill="#222">Indole</text>
<line x1="571.20" y1="311.40" x2="573.20" y2="311.40" stroke="#222" stroke-width="0.6"/>
<rect x="573.20" y="321.60" width="21.40" height="4.10" fill="#f4ae62" stroke="#222222" stroke-width="0.95"/>
<rect x="573.20" y="327.40" width="14.16" height="4.10" fill="#ee9cab" stroke="#222222" stroke-width="0.95"/>
<text x="566.70" y="330.90" font-size="8.8" text-anchor="end" fill="#222">5-HI</text>
<line x1="571.20" y1="327.80" x2="573.20" y2="327.80" stroke="#222" stroke-width="0.6"/>
<rect x="573.20" y="338.10" width="49.73" height="4.10" fill="#f4ae62" stroke="#222222" stroke-width="0.95"/>
<rect x="573.20" y="343.90" width="31.14" height="4.10" fill="#ee9cab" stroke="#222222" stroke-width="0.95"/>
<text x="566.70" y="345.70" font-size="8.8" text-anchor="end" fill="#222">IS</text>
<line x1="571.20" y1="342.60" x2="573.20" y2="342.60" stroke="#222" stroke-width="0.6"/>
<rect x="573.20" y="354.20" width="30.58" height="4.10" fill="#f4ae62" stroke="#222222" stroke-width="0.95"/>
<rect x="573.20" y="360.30" width="31.01" height="4.10" fill="#ee9cab" stroke="#222222" stroke-width="0.95"/>
<text x="566.70" y="363.10" font-size="8.8" text-anchor="end" fill="#222">ILA</text>
<line x1="571.20" y1="360.00" x2="573.20" y2="360.00" stroke="#222" stroke-width="0.6"/>
<rect x="567.27" y="370.50" width="5.93" height="4.10" fill="#f4ae62" stroke="#222222" stroke-width="0.95"/>
<text x="579.20" y="379.10" font-size="8.8" fill="#222">IAAID</text>
<line x1="573.20" y1="376.00" x2="575.20" y2="376.00" stroke="#222" stroke-width="0.6"/>
<rect x="573.20" y="386.60" width="8.17" height="4.10" fill="#f4ae62" stroke="#222222" stroke-width="0.95"/>
<rect x="573.20" y="392.20" width="28.39" height="4.10" fill="#ee9cab" stroke="#222222" stroke-width="0.95"/>
<text x="566.70" y="395.90" font-size="8.8" text-anchor="end" fill="#222">IAN</text>
<line x1="571.20" y1="392.80" x2="573.20" y2="392.80" stroke="#222" stroke-width="0.6"/>
<rect x="551.36" y="403.20" width="21.84" height="4.10" fill="#f4ae62" stroke="#222222" stroke-width="0.95"/>
<rect x="472.11" y="408.80" width="101.09" height="4.10" fill="#ee9cab" stroke="#222222" stroke-width="0.95"/>
<text x="579.20" y="411.70" font-size="8.8" fill="#222">IAA</text>
<line x1="573.20" y1="408.60" x2="575.20" y2="408.60" stroke="#222" stroke-width="0.6"/>
<rect x="542.00" y="425.20" width="31.20" height="4.10" fill="#ee9cab" stroke="#222222" stroke-width="0.95"/>
<text x="579.20" y="428.70" font-size="8.8" fill="#222">Skatole</text>
<line x1="573.20" y1="425.60" x2="575.20" y2="425.60" stroke="#222" stroke-width="0.6"/>
<rect x="571.33" y="436.00" width="1.87" height="4.10" fill="#f4ae62" stroke="#222222" stroke-width="0.95"/>
<rect x="573.20" y="441.30" width="8.11" height="4.10" fill="#ee9cab" stroke="#222222" stroke-width="0.95"/>
<text x="566.70" y="444.10" font-size="8.8" text-anchor="end" fill="#222">IAID</text>
<line x1="571.20" y1="441.00" x2="573.20" y2="441.00" stroke="#222" stroke-width="0.6"/>
<line x1="573.20" y1="302.40" x2="573.20" y2="448.40" stroke="#222" stroke-width="0.8"/>
<line x1="467.80" y1="448.40" x2="635.20" y2="448.40" stroke="#222" stroke-width="0.8"/>
<line x1="479.60" y1="448.40" x2="479.60" y2="450.10" stroke="#222" stroke-width="0.6"/>
<text x="479.60" y="456.40" font-size="4.5" font-weight="bold" text-anchor="middle" fill="#222">-1.5</text>
<line x1="510.80" y1="448.40" x2="510.80" y2="450.10" stroke="#222" stroke-width="0.6"/>
<text x="510.80" y="456.40" font-size="4.5" font-weight="bold" text-anchor="middle" fill="#222">-1.0</text>
<line x1="542.00" y1="448.40" x2="542.00" y2="450.10" stroke="#222" stroke-width="0.6"/>
<text x="542.00" y="456.40" font-size="4.5" font-weight="bold" text-anchor="middle" fill="#222">-0.5</text>
<line x1="573.20" y1="448.40" x2="573.20" y2="450.10" stroke="#222" stroke-width="0.6"/>
<text x="573.20" y="456.40" font-size="4.5" font-weight="bold" text-anchor="middle" fill="#222">0.0</text>
<line x1="604.40" y1="448.40" x2="604.40" y2="450.10" stroke="#222" stroke-width="0.6"/>
<text x="604.40" y="456.40" font-size="4.5" font-weight="bold" text-anchor="middle" fill="#222">0.5</text>
<line x1="635.60" y1="448.40" x2="635.60" y2="450.10" stroke="#222" stroke-width="0.6"/>
<text x="635.60" y="456.40" font-size="4.5" font-weight="bold" text-anchor="middle" fill="#222">1.0</text>
<rect x="626.40" y="296.10" width="9.40" height="4.90" fill="#ee9cab" stroke="#222222" stroke-width="1.1"/>
<rect x="626.40" y="307.80" width="9.40" height="4.90" fill="#f4ae62" stroke="#222222" stroke-width="1.1"/>
<text x="640.80" y="301.00" font-size="6.6" fill="#222">WT-HFD</text>
<text x="640.80" y="312.70" font-size="6.6" fill="#222">CB2R<tspan font-size="4" dy="-2.3">-/-</tspan><tspan dy="2.3">-NCD</tspan></text>
<rect x="58.00" y="476.50" width="151.20" height="178.90" fill="#dddbee"/>
<rect x="209.20" y="476.50" width="151.20" height="178.90" fill="#f8f3e6"/>
<rect x="360.40" y="476.50" width="250.00" height="178.90" fill="#f5e6ec"/>
<line x1="58.00" y1="476.50" x2="209.20" y2="476.50" stroke="#b48ae0" stroke-width="1.6"/>
<line x1="58.00" y1="655.40" x2="209.20" y2="655.40" stroke="#b48ae0" stroke-width="1.6"/>
<line x1="58.80" y1="476.50" x2="58.80" y2="655.40" stroke="#b48ae0" stroke-width="1.6"/>
<line x1="209.20" y1="476.50" x2="360.40" y2="476.50" stroke="#ecbc72" stroke-width="1.6"/>
<line x1="209.20" y1="655.40" x2="360.40" y2="655.40" stroke="#ecbc72" stroke-width="1.6"/>
<line x1="360.40" y1="476.50" x2="610.20" y2="476.50" stroke="#dc92a2" stroke-width="1.6"/>
<line x1="360.40" y1="655.40" x2="610.20" y2="655.40" stroke="#dc92a2" stroke-width="1.6"/>
<line x1="609.60" y1="476.50" x2="609.60" y2="655.40" stroke="#dc92a2" stroke-width="1.6"/>
<line x1="209.00" y1="477.30" x2="209.00" y2="654.60" stroke="#b48ae0" stroke-width="1.7" stroke-dasharray="5.2 2.2"/>
<line x1="360.20" y1="477.30" x2="360.20" y2="654.60" stroke="#ecbc72" stroke-width="1.7" stroke-dasharray="5.2 2.2"/>
<line x1="59.50" y1="632.70" x2="208.00" y2="632.70" stroke="#b48ae0" stroke-width="1.5" stroke-dasharray="5.2 2.2"/>
<line x1="210.00" y1="632.70" x2="359.50" y2="632.70" stroke="#ecbc72" stroke-width="1.5" stroke-dasharray="5.2 2.2"/>
<line x1="361.00" y1="632.70" x2="609.00" y2="632.70" stroke="#dc92a2" stroke-width="1.5" stroke-dasharray="5.2 2.2"/>
<text x="132.20" y="649.00" font-size="10.6" font-weight="bold" text-anchor="middle" fill="#111">KYNURENINE</text>
<text x="283.20" y="649.00" font-size="10.6" font-weight="bold" text-anchor="middle" fill="#111">SEROTONIN</text>
<text x="483.60" y="649.00" font-size="10.6" font-weight="bold" text-anchor="middle" fill="#111">INDOLE</text>
<rect x="109.60" y="481.70" width="45.50" height="16.30" fill="#e0e4f0" stroke="#7a86ae" stroke-width="0.8" rx="3.0"/>
<text x="132.35" y="494.35" font-size="10.7" font-weight="bold" text-anchor="middle" fill="#111">Trp</text>
<line x1="132.00" y1="498.40" x2="132.00" y2="509.10" stroke="#111" stroke-width="1.7"/><path d="M128.50 504.00L132.00 509.30L135.50 504.00" fill="none" stroke="#111" stroke-width="1.7" stroke-linejoin="miter"/>
<rect x="108.40" y="511.20" width="48.30" height="17.40" fill="#b8323c" rx="3.2"/>
<text x="113.75" y="524.30" font-size="10.7" font-weight="bold" fill="#fff">KYN</text>
<line x1="113.75" y1="526.00" x2="136.35" y2="526.00" stroke="#efc4c9" stroke-width="1.0"/>
<path d="M138.05 520.50L143.95 517.75L143.95 523.25Z" fill="#fff"/><path d="M151.35 520.50L145.45 517.75L145.45 523.25Z" fill="#fff"/><line x1="143.75" y1="520.50" x2="145.65" y2="520.50" stroke="#fff" stroke-width="1.0"/>
<line x1="132.00" y1="528.60" x2="132.00" y2="532.60" stroke="#111" stroke-width="1.7"/>
<line x1="81.15" y1="532.60" x2="175.45" y2="532.60" stroke="#111" stroke-width="1.7"/>
<line x1="82.00" y1="532.60" x2="82.00" y2="541.10" stroke="#111" stroke-width="1.7"/><path d="M78.50 536.00L82.00 541.30L85.50 536.00" fill="none" stroke="#111" stroke-width="1.7" stroke-linejoin="miter"/>
<line x1="123.00" y1="532.60" x2="123.00" y2="541.10" stroke="#111" stroke-width="1.7"/><path d="M119.50 536.00L123.00 541.30L126.50 536.00" fill="none" stroke="#111" stroke-width="1.7" stroke-linejoin="miter"/>
<line x1="174.60" y1="532.60" x2="174.60" y2="541.10" stroke="#111" stroke-width="1.7"/><path d="M171.10 536.00L174.60 541.30L178.10 536.00" fill="none" stroke="#111" stroke-width="1.7" stroke-linejoin="miter"/>
<rect x="66.20" y="543.20" width="31.50" height="17.60" fill="#b8323c" rx="3.2"/>
<text x="70.62" y="556.40" font-size="10.7" font-weight="bold" fill="#fff">AA</text>
<line x1="70.62" y1="558.10" x2="86.08" y2="558.10" stroke="#efc4c9" stroke-width="1.0"/>
<path d="M90.78 547.30L93.28 551.60L88.28 551.60Z" fill="#fff"/><line x1="90.78" y1="551.30" x2="90.78" y2="557.70" stroke="#fff" stroke-width="1.5"/>
<rect x="106.80" y="543.60" width="34.20" height="17.20" fill="#e0e4f0" stroke="#7a86ae" stroke-width="0.8" rx="3.0"/>
<text x="123.90" y="556.70" font-size="10.7" font-weight="bold" text-anchor="middle" fill="#111">3-HK</text>
<rect x="149.10" y="543.20" width="53.50" height="17.60" fill="#b8323c" rx="3.2"/>
<text x="153.19" y="556.40" font-size="10.7" font-weight="bold" fill="#fff">KYNA</text>
<line x1="153.19" y1="558.10" x2="183.51" y2="558.10" stroke="#efc4c9" stroke-width="1.0"/>
<path d="M185.21 552.60L191.11 549.85L191.11 555.35Z" fill="#fff"/><path d="M198.51 552.60L192.61 549.85L192.61 555.35Z" fill="#fff"/><line x1="190.91" y1="552.60" x2="192.81" y2="552.60" stroke="#fff" stroke-width="1.0"/>
<line x1="122.70" y1="561.20" x2="122.70" y2="565.50" stroke="#111" stroke-width="1.7"/>
<line x1="97.15" y1="565.50" x2="156.85" y2="565.50" stroke="#111" stroke-width="1.7"/>
<line x1="98.00" y1="565.50" x2="98.00" y2="573.90" stroke="#111" stroke-width="1.7"/><path d="M94.50 568.80L98.00 574.10L101.50 568.80" fill="none" stroke="#111" stroke-width="1.7" stroke-linejoin="miter"/>
<line x1="156.00" y1="565.50" x2="156.00" y2="573.90" stroke="#111" stroke-width="1.7"/><path d="M152.50 568.80L156.00 574.10L159.50 568.80" fill="none" stroke="#111" stroke-width="1.7" stroke-linejoin="miter"/>
<rect x="85.80" y="576.00" width="29.90" height="17.50" fill="#b8323c" rx="3.2"/>
<text x="90.61" y="589.15" font-size="10.7" font-weight="bold" fill="#fff">Xa</text>
<line x1="90.61" y1="590.85" x2="103.69" y2="590.85" stroke="#efc4c9" stroke-width="1.0"/>
<path d="M108.39 580.05L110.89 584.35L105.89 584.35Z" fill="#fff"/><line x1="108.39" y1="584.05" x2="108.39" y2="590.45" stroke="#fff" stroke-width="1.5"/>
<rect x="130.40" y="576.00" width="57.30" height="17.50" fill="#b8323c" rx="3.2"/>
<text x="135.20" y="589.15" font-size="10.7" font-weight="bold" fill="#fff">3-HAA</text>
<line x1="135.20" y1="590.85" x2="167.90" y2="590.85" stroke="#efc4c9" stroke-width="1.0"/>
<path d="M169.60 585.35L175.50 582.60L175.50 588.10Z" fill="#fff"/><path d="M182.90 585.35L177.00 582.60L177.00 588.10Z" fill="#fff"/><line x1="175.30" y1="585.35" x2="177.20" y2="585.35" stroke="#fff" stroke-width="1.0"/>
<line x1="155.40" y1="593.50" x2="155.40" y2="597.20" stroke="#111" stroke-width="1.7"/>
<line x1="131.35" y1="597.20" x2="181.85" y2="597.20" stroke="#111" stroke-width="1.7"/>
<line x1="132.20" y1="597.20" x2="132.20" y2="605.70" stroke="#111" stroke-width="1.7"/><path d="M128.70 600.60L132.20 605.90L135.70 600.60" fill="none" stroke="#111" stroke-width="1.7" stroke-linejoin="miter"/>
<line x1="181.00" y1="597.20" x2="181.00" y2="605.70" stroke="#111" stroke-width="1.7"/><path d="M177.50 600.60L181.00 605.90L184.50 600.60" fill="none" stroke="#111" stroke-width="1.7" stroke-linejoin="miter"/>
<rect x="64.80" y="607.80" width="35.00" height="17.10" fill="#b8323c" rx="3.2"/>
<text x="67.07" y="620.75" font-size="10.7" font-weight="bold" fill="#fff">NA</text>
<line x1="67.07" y1="622.45" x2="82.53" y2="622.45" stroke="#efc4c9" stroke-width="1.0"/>
<path d="M84.23 616.95L90.13 614.20L90.13 619.70Z" fill="#fff"/><path d="M97.53 616.95L91.63 614.20L91.63 619.70Z" fill="#fff"/><line x1="89.93" y1="616.95" x2="91.83" y2="616.95" stroke="#fff" stroke-width="1.0"/>
<rect x="109.90" y="608.20" width="49.70" height="17.20" fill="#b8323c" rx="3.2"/>
<text x="113.88" y="621.20" font-size="10.7" font-weight="bold" fill="#fff">QUIN</text>
<line x1="113.88" y1="622.90" x2="140.62" y2="622.90" stroke="#efc4c9" stroke-width="1.0"/>
<path d="M142.32 617.40L148.22 614.65L148.22 620.15Z" fill="#fff"/><path d="M155.62 617.40L149.72 614.65L149.72 620.15Z" fill="#fff"/><line x1="148.03" y1="617.40" x2="149.92" y2="617.40" stroke="#fff" stroke-width="1.0"/>
<rect x="162.50" y="608.20" width="42.00" height="17.20" fill="#b8323c" rx="3.2"/>
<text x="167.08" y="621.20" font-size="10.7" font-weight="bold" fill="#fff">PIC</text>
<line x1="167.08" y1="622.90" x2="184.92" y2="622.90" stroke="#efc4c9" stroke-width="1.0"/>
<path d="M186.62 617.40L192.52 614.65L192.52 620.15Z" fill="#fff"/><path d="M199.92 617.40L194.02 614.65L194.02 620.15Z" fill="#fff"/><line x1="192.32" y1="617.40" x2="194.22" y2="617.40" stroke="#fff" stroke-width="1.0"/>
<line x1="109.90" y1="617.20" x2="101.10" y2="617.20" stroke="#111" stroke-width="1.7"/><path d="M106.00 613.70L100.90 617.20L106.00 620.70" fill="none" stroke="#111" stroke-width="1.7"/>
<rect x="263.80" y="482.10" width="45.20" height="17.20" fill="#e0e4f0" stroke="#7a86ae" stroke-width="0.8" rx="3.0"/>
<text x="286.40" y="495.20" font-size="10.7" font-weight="bold" text-anchor="middle" fill="#111">Trp</text>
<line x1="286.60" y1="499.70" x2="286.60" y2="511.90" stroke="#111" stroke-width="1.7"/><path d="M283.10 506.80L286.60 512.10L290.10 506.80" fill="none" stroke="#111" stroke-width="1.7" stroke-linejoin="miter"/>
<rect x="259.90" y="513.70" width="53.70" height="17.50" fill="#b8323c" rx="3.2"/>
<text x="263.79" y="526.85" font-size="10.7" font-weight="bold" fill="#fff">5-HTP</text>
<line x1="263.79" y1="528.55" x2="294.71" y2="528.55" stroke="#efc4c9" stroke-width="1.0"/>
<path d="M296.41 523.05L302.31 520.30L302.31 525.80Z" fill="#fff"/><path d="M309.71 523.05L303.81 520.30L303.81 525.80Z" fill="#fff"/><line x1="302.11" y1="523.05" x2="304.01" y2="523.05" stroke="#fff" stroke-width="1.0"/>
<line x1="286.60" y1="531.20" x2="286.60" y2="542.90" stroke="#111" stroke-width="1.7"/><path d="M283.10 537.80L286.60 543.10L290.10 537.80" fill="none" stroke="#111" stroke-width="1.7" stroke-linejoin="miter"/>
<rect x="262.70" y="544.70" width="47.90" height="17.60" fill="#b8323c" rx="3.2"/>
<text x="267.26" y="557.90" font-size="10.7" font-weight="bold" fill="#fff">5-HT</text>
<line x1="267.26" y1="559.60" x2="291.04" y2="559.60" stroke="#efc4c9" stroke-width="1.0"/>
<path d="M292.74 554.10L298.64 551.35L298.64 556.85Z" fill="#fff"/><path d="M306.04 554.10L300.14 551.35L300.14 556.85Z" fill="#fff"/><line x1="298.44" y1="554.10" x2="300.34" y2="554.10" stroke="#fff" stroke-width="1.0"/>
<line x1="286.80" y1="562.30" x2="286.80" y2="566.00" stroke="#111" stroke-width="1.7"/>
<line x1="246.75" y1="566.00" x2="321.95" y2="566.00" stroke="#111" stroke-width="1.7"/>
<line x1="247.60" y1="566.00" x2="247.60" y2="575.10" stroke="#111" stroke-width="1.7"/><path d="M244.10 570.00L247.60 575.30L251.10 570.00" fill="none" stroke="#111" stroke-width="1.7" stroke-linejoin="miter"/>
<line x1="321.10" y1="566.00" x2="321.10" y2="575.10" stroke="#111" stroke-width="1.7"/><path d="M317.60 570.00L321.10 575.30L324.60 570.00" fill="none" stroke="#111" stroke-width="1.7" stroke-linejoin="miter"/>
<rect x="215.50" y="577.20" width="65.40" height="17.60" fill="#b8323c" rx="3.2"/>
<text x="219.64" y="590.40" font-size="10.7" font-weight="bold" fill="#fff">Melatonin</text>
<line x1="219.64" y1="592.10" x2="269.56" y2="592.10" stroke="#efc4c9" stroke-width="1.0"/>
<path d="M274.26 591.70L276.76 587.40L271.76 587.40Z" fill="#fff"/><line x1="274.26" y1="587.70" x2="274.26" y2="581.30" stroke="#fff" stroke-width="1.5"/>
<rect x="286.10" y="577.20" width="69.60" height="17.60" fill="#b8323c" rx="3.2"/>
<text x="290.22" y="590.40" font-size="10.7" font-weight="bold" fill="#fff">5-Me-IAA</text>
<line x1="290.22" y1="592.10" x2="336.58" y2="592.10" stroke="#efc4c9" stroke-width="1.0"/>
<path d="M338.28 586.60L344.18 583.85L344.18 589.35Z" fill="#fff"/><path d="M351.58 586.60L345.68 583.85L345.68 589.35Z" fill="#fff"/><line x1="343.98" y1="586.60" x2="345.88" y2="586.60" stroke="#fff" stroke-width="1.0"/>
<line x1="247.70" y1="594.80" x2="247.70" y2="606.40" stroke="#111" stroke-width="1.7"/><path d="M244.20 601.30L247.70 606.60L251.20 601.30" fill="none" stroke="#111" stroke-width="1.7" stroke-linejoin="miter"/>
<rect x="215.50" y="608.30" width="128.50" height="16.90" fill="#b8323c" rx="3.2"/>
<text x="220.82" y="621.15" font-size="10.7" font-weight="bold" fill="#fff">6-Hydroxymelatonin</text>
<line x1="220.82" y1="622.85" x2="323.68" y2="622.85" stroke="#efc4c9" stroke-width="1.0"/>
<path d="M325.38 617.35L331.28 614.60L331.28 620.10Z" fill="#fff"/><path d="M338.68 617.35L332.78 614.60L332.78 620.10Z" fill="#fff"/><line x1="331.08" y1="617.35" x2="332.98" y2="617.35" stroke="#fff" stroke-width="1.0"/>
<rect x="461.00" y="482.10" width="45.40" height="16.00" fill="#e0e4f0" stroke="#7a86ae" stroke-width="0.8" rx="3.0"/>
<text x="483.70" y="494.60" font-size="10.7" font-weight="bold" text-anchor="middle" fill="#111">Trp</text>
<line x1="483.70" y1="498.50" x2="483.70" y2="502.80" stroke="#111" stroke-width="1.7"/>
<line x1="400.45" y1="502.80" x2="570.55" y2="502.80" stroke="#111" stroke-width="1.7"/>
<line x1="401.30" y1="502.80" x2="401.30" y2="511.30" stroke="#111" stroke-width="1.7"/><path d="M397.80 506.20L401.30 511.50L404.80 506.20" fill="none" stroke="#111" stroke-width="1.7" stroke-linejoin="miter"/>
<line x1="459.40" y1="502.80" x2="459.40" y2="511.30" stroke="#111" stroke-width="1.7"/><path d="M455.90 506.20L459.40 511.50L462.90 506.20" fill="none" stroke="#111" stroke-width="1.7" stroke-linejoin="miter"/>
<line x1="506.50" y1="502.80" x2="506.50" y2="511.30" stroke="#111" stroke-width="1.7"/><path d="M503.00 506.20L506.50 511.50L510.00 506.20" fill="none" stroke="#111" stroke-width="1.7" stroke-linejoin="miter"/>
<line x1="569.70" y1="502.80" x2="569.70" y2="511.30" stroke="#111" stroke-width="1.7"/><path d="M566.20 506.20L569.70 511.50L573.20 506.20" fill="none" stroke="#111" stroke-width="1.7" stroke-linejoin="miter"/>
<rect x="370.70" y="513.20" width="56.70" height="17.50" fill="#b8323c" rx="3.2"/>
<text x="375.80" y="526.35" font-size="10.7" font-weight="bold" fill="#fff">Indole</text>
<line x1="375.80" y1="528.05" x2="407.30" y2="528.05" stroke="#efc4c9" stroke-width="1.0"/>
<path d="M409.00 522.55L414.90 519.80L414.90 525.30Z" fill="#fff"/><path d="M422.30 522.55L416.40 519.80L416.40 525.30Z" fill="#fff"/><line x1="414.70" y1="522.55" x2="416.60" y2="522.55" stroke="#fff" stroke-width="1.0"/>
<rect x="443.00" y="513.60" width="32.60" height="17.00" fill="#e0e4f0" stroke="#7a86ae" stroke-width="0.8" rx="3.0"/>
<text x="459.30" y="526.60" font-size="10.7" font-weight="bold" text-anchor="middle" fill="#111">IPYA</text>
<rect x="490.00" y="513.60" width="33.00" height="17.00" fill="#e0e4f0" stroke="#7a86ae" stroke-width="0.8" rx="3.0"/>
<text x="506.50" y="526.60" font-size="10.7" font-weight="bold" text-anchor="middle" fill="#111">IAOx</text>
<rect x="537.60" y="513.60" width="64.60" height="17.00" fill="#e0e4f0" stroke="#7a86ae" stroke-width="0.8" rx="3.0"/>
<text x="569.90" y="526.60" font-size="10.7" font-weight="bold" text-anchor="middle" fill="#111">Tryptamine</text>
<line x1="398.90" y1="530.70" x2="398.90" y2="533.60" stroke="#111" stroke-width="1.7"/>
<line x1="378.75" y1="533.60" x2="419.05" y2="533.60" stroke="#111" stroke-width="1.7"/>
<line x1="379.60" y1="533.60" x2="379.60" y2="542.50" stroke="#111" stroke-width="1.7"/><path d="M376.10 537.40L379.60 542.70L383.10 537.40" fill="none" stroke="#111" stroke-width="1.7" stroke-linejoin="miter"/>
<line x1="418.20" y1="533.60" x2="418.20" y2="542.50" stroke="#111" stroke-width="1.7"/><path d="M414.70 537.40L418.20 542.70L421.70 537.40" fill="none" stroke="#111" stroke-width="1.7" stroke-linejoin="miter"/>
<rect x="366.20" y="544.30" width="28.00" height="17.30" fill="#b8323c" rx="3.2"/>
<text x="371.55" y="557.35" font-size="10.7" font-weight="bold" fill="#fff">IS</text>
<line x1="371.55" y1="559.05" x2="381.65" y2="559.05" stroke="#efc4c9" stroke-width="1.0"/>
<path d="M386.35 548.25L388.85 552.55L383.85 552.55Z" fill="#fff"/><line x1="386.35" y1="552.25" x2="386.35" y2="558.65" stroke="#fff" stroke-width="1.5"/>
<rect x="398.90" y="544.30" width="40.20" height="17.30" fill="#b8323c" rx="3.2"/>
<text x="405.29" y="557.35" font-size="10.7" font-weight="bold" fill="#fff">5-HI</text>
<line x1="405.29" y1="559.05" x2="425.51" y2="559.05" stroke="#efc4c9" stroke-width="1.0"/>
<path d="M430.21 548.25L432.71 552.55L427.71 552.55Z" fill="#fff"/><line x1="430.21" y1="552.25" x2="430.21" y2="558.65" stroke="#fff" stroke-width="1.5"/>
<line x1="459.40" y1="531.00" x2="459.40" y2="542.50" stroke="#111" stroke-width="1.7"/><path d="M455.90 537.40L459.40 542.70L462.90 537.40" fill="none" stroke="#111" stroke-width="1.7" stroke-linejoin="miter"/>
<rect x="442.60" y="544.30" width="33.40" height="17.30" fill="#b8323c" rx="3.2"/>
<text x="447.08" y="557.35" font-size="10.7" font-weight="bold" fill="#fff">ILA</text>
<line x1="447.08" y1="559.05" x2="464.32" y2="559.05" stroke="#efc4c9" stroke-width="1.0"/>
<path d="M469.02 548.25L471.52 552.55L466.52 552.55Z" fill="#fff"/><line x1="469.02" y1="552.25" x2="469.02" y2="558.65" stroke="#fff" stroke-width="1.5"/>
<line x1="506.40" y1="531.00" x2="506.40" y2="542.50" stroke="#111" stroke-width="1.7"/><path d="M502.90 537.40L506.40 542.70L509.90 537.40" fill="none" stroke="#111" stroke-width="1.7" stroke-linejoin="miter"/>
<rect x="485.80" y="544.30" width="41.20" height="17.30" fill="#b8323c" rx="3.2"/>
<text x="489.69" y="557.35" font-size="10.7" font-weight="bold" fill="#fff">IAN</text>
<line x1="489.69" y1="559.05" x2="508.11" y2="559.05" stroke="#efc4c9" stroke-width="1.0"/>
<path d="M509.81 553.55L515.71 550.80L515.71 556.30Z" fill="#fff"/><path d="M523.11 553.55L517.21 550.80L517.21 556.30Z" fill="#fff"/><line x1="515.51" y1="553.55" x2="517.41" y2="553.55" stroke="#fff" stroke-width="1.0"/>
<line x1="569.80" y1="531.00" x2="569.80" y2="542.50" stroke="#111" stroke-width="1.7"/><path d="M566.30 537.40L569.80 542.70L573.30 537.40" fill="none" stroke="#111" stroke-width="1.7" stroke-linejoin="miter"/>
<rect x="546.80" y="544.30" width="49.50" height="17.30" fill="#b8323c" rx="3.2"/>
<text x="549.49" y="557.35" font-size="10.7" font-weight="bold" fill="#fff">IAAID</text>
<line x1="549.49" y1="559.05" x2="578.61" y2="559.05" stroke="#efc4c9" stroke-width="1.0"/>
<path d="M580.31 553.55L586.21 550.80L586.21 556.30Z" fill="#fff"/><path d="M593.61 553.55L587.71 550.80L587.71 556.30Z" fill="#fff"/><line x1="586.01" y1="553.55" x2="587.91" y2="553.55" stroke="#fff" stroke-width="1.0"/>
<line x1="506.00" y1="561.60" x2="506.00" y2="574.10" stroke="#111" stroke-width="1.7"/><path d="M502.50 569.00L506.00 574.30L509.50 569.00" fill="none" stroke="#111" stroke-width="1.7" stroke-linejoin="miter"/>
<rect x="486.10" y="576.00" width="41.30" height="17.50" fill="#b8323c" rx="3.2"/>
<text x="490.04" y="589.15" font-size="10.7" font-weight="bold" fill="#fff">IAA</text>
<line x1="490.04" y1="590.85" x2="508.46" y2="590.85" stroke="#efc4c9" stroke-width="1.0"/>
<path d="M510.16 585.35L516.06 582.60L516.06 588.10Z" fill="#fff"/><path d="M523.46 585.35L517.56 582.60L517.56 588.10Z" fill="#fff"/><line x1="515.86" y1="585.35" x2="517.76" y2="585.35" stroke="#fff" stroke-width="1.0"/>
<line x1="506.40" y1="593.50" x2="506.40" y2="597.70" stroke="#111" stroke-width="1.7"/>
<line x1="474.45" y1="597.70" x2="538.25" y2="597.70" stroke="#111" stroke-width="1.7"/>
<line x1="475.30" y1="597.70" x2="475.30" y2="606.30" stroke="#111" stroke-width="1.7"/><path d="M471.80 601.20L475.30 606.50L478.80 601.20" fill="none" stroke="#111" stroke-width="1.7" stroke-linejoin="miter"/>
<line x1="537.40" y1="597.70" x2="537.40" y2="606.30" stroke="#111" stroke-width="1.7"/><path d="M533.90 601.20L537.40 606.50L540.90 601.20" fill="none" stroke="#111" stroke-width="1.7" stroke-linejoin="miter"/>
<rect x="445.20" y="608.00" width="62.60" height="17.50" fill="#b8323c" rx="3.2"/>
<text x="449.97" y="621.15" font-size="10.7" font-weight="bold" fill="#fff">Skatole</text>
<line x1="449.97" y1="622.85" x2="488.03" y2="622.85" stroke="#efc4c9" stroke-width="1.0"/>
<path d="M489.73 617.35L495.63 614.60L495.63 620.10Z" fill="#fff"/><path d="M503.03 617.35L497.13 614.60L497.13 620.10Z" fill="#fff"/><line x1="495.43" y1="617.35" x2="497.33" y2="617.35" stroke="#fff" stroke-width="1.0"/>
<rect x="516.00" y="608.00" width="43.00" height="17.50" fill="#b8323c" rx="3.2"/>
<text x="519.30" y="621.15" font-size="10.7" font-weight="bold" fill="#fff">IAID</text>
<line x1="519.30" y1="622.85" x2="540.70" y2="622.85" stroke="#efc4c9" stroke-width="1.0"/>
<path d="M542.40 617.35L548.30 614.60L548.30 620.10Z" fill="#fff"/><path d="M555.70 617.35L549.80 614.60L549.80 620.10Z" fill="#fff"/><line x1="548.10" y1="617.35" x2="550.00" y2="617.35" stroke="#fff" stroke-width="1.0"/>
<path d="M64.20 662.90L67.60 669.60L60.80 669.60Z" fill="#111"/><line x1="64.20" y1="669.10" x2="64.20" y2="675.80" stroke="#111" stroke-width="1.75"/>
<text x="72.20" y="674.50" font-size="11.15" font-weight="bold" fill="#111">, increased;</text>
<path d="M144.30 675.50L147.70 668.80L140.90 668.80Z" fill="#111"/><line x1="144.30" y1="662.30" x2="144.30" y2="669.30" stroke="#111" stroke-width="1.75"/>
<text x="152.20" y="674.50" font-size="11.15" font-weight="bold" fill="#111">, decreased;</text>
<path d="M222.9 672.2L229.3 669.10L229.3 675.30Z" fill="#111"/>
<path d="M238.2 672.2L231.8 669.10L231.8 675.30Z" fill="#111"/>
<line x1="229.00" y1="672.20" x2="232.10" y2="672.20" stroke="#111" stroke-width="1.2"/>
<text x="241.60" y="674.50" font-size="11.15" font-weight="bold" fill="#111">, unchanged in CB2R<tspan font-size="7.0" dy="-3.8">-/-</tspan><tspan dy="3.8">NCD vs WT-NCD.</tspan></text>
</svg>
</body></html>
